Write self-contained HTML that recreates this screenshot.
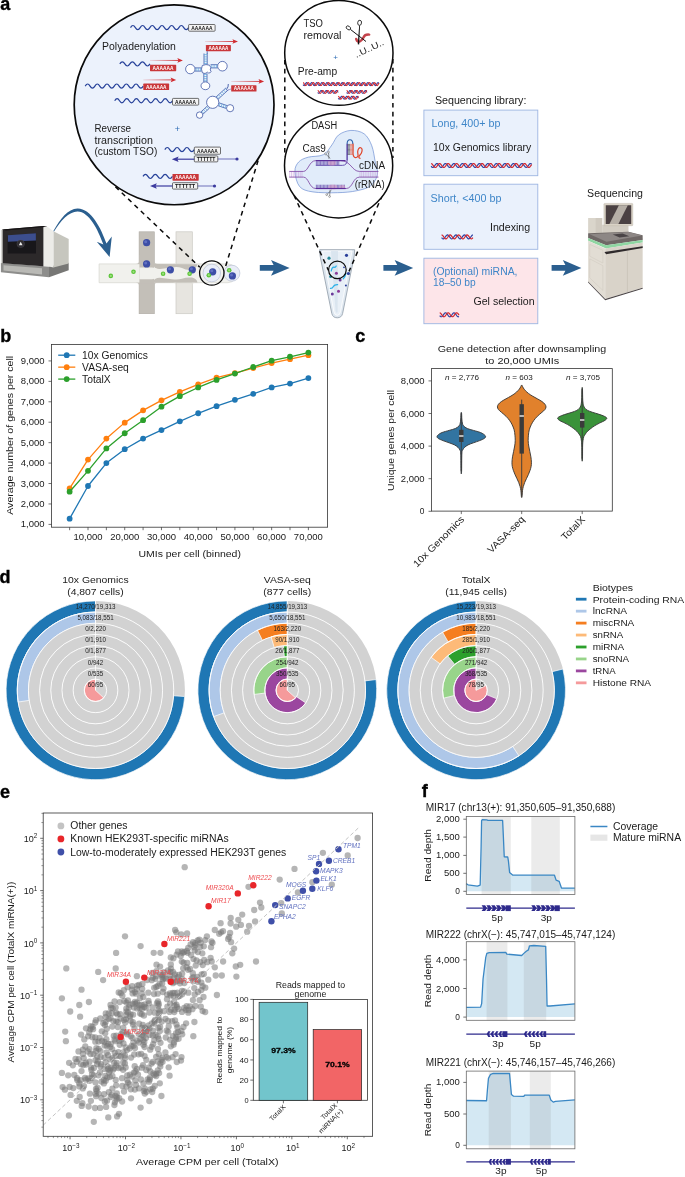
<!DOCTYPE html>
<html lang="en"><head><meta charset="utf-8"><title>TotalX figure</title>
<style>
html,body{margin:0;padding:0;background:#fff}
svg{display:block;will-change:transform}
svg text{font-family:"Liberation Sans",sans-serif}
</style></head><body>
<svg width="685" height="1177" viewBox="0 0 685 1177" fill="#1a1a1a">
<g id="panel_a">
<text x="0.20" y="10.00" font-size="18" fill="#000" font-weight="bold" stroke="#000" stroke-width="0.35">a</text>
<polygon points="0.90,263.00 49.00,266.40 49.00,277.20 0.90,272.30" fill="#8d8d8b" stroke="none" stroke-width="1" />
<polygon points="3.50,265.20 42.00,268.20 42.00,274.60 3.50,270.60" fill="#b9b9b5" stroke="none" stroke-width="1" />
<polygon points="49.00,266.40 68.70,262.80 68.70,270.20 49.00,277.20" fill="#777775" stroke="none" stroke-width="1" />
<polygon points="53.40,231.20 68.70,238.90 68.70,263.40 53.40,267.40" fill="#c6c6be" stroke="none" stroke-width="1" />
<polygon points="43.40,226.00 47.50,226.80 53.40,231.20 53.40,267.40 49.00,266.60 43.40,266.20" fill="#ecece8" stroke="none" stroke-width="1" />
<polygon points="2.10,229.60 43.40,226.00 43.40,266.20 2.10,263.20" fill="#2c292a" stroke="none" stroke-width="1" />
<polygon points="2.10,229.60 43.40,226.00 47.50,226.80 6.00,230.40" fill="#161415" stroke="none" stroke-width="1" />
<polygon points="0.90,230.20 2.60,229.60 2.60,263.20 0.90,263.00" fill="#d8d8d4" stroke="none" stroke-width="1" />
<polygon points="7.60,236.20 36.00,233.20 36.00,253.40 7.60,253.40" fill="#18171a" stroke="none" stroke-width="1" />
<polygon points="7.90,235.20 35.90,233.30 35.90,240.60 7.90,241.70" fill="#3c4e8e" stroke="none" stroke-width="1" />
<circle cx="20.70" cy="243.80" r="3.80" fill="#2d2b30" stroke="#55535a" stroke-width="0.4" />
<polygon points="20.70,241.80 22.60,245.20 18.80,245.20" fill="#e8e8e8" stroke="none" stroke-width="1" />
<path d="M53.4,230.9 C60,219 68,208.6 77.5,208.4 C91,208.2 101,228 106.5,243.5 L111.8,236.6 L109.6,257.0 L96.8,241.8 L103.4,244.6 C98,229.5 89,211.6 77.6,211.4 C69,211.3 60.5,221 54.0,231.4 Z" fill="#2b5f8f"/>
<rect x="176.00" y="231.80" width="16.30" height="81.90" fill="#e7e5e0" stroke="#cbc9c3" stroke-width="0.7" />
<rect x="139.10" y="231.80" width="15.20" height="81.90" fill="#c3bfb8" stroke="#aeaaa3" stroke-width="0.6" />
<path d="M99.1,263.9 H228 Q236,264.5 236,273.3 Q236,282 228,282.7 H99.1 Z" fill="#f1f1ed" stroke="#d6d5cf" stroke-width="0.7"/>
<path d="M139.4,255 V263.9 H154.0 V255 Z M139.4,290 V282.7 H154.0 V290Z" fill="#c3bfb8"/>
<path d="M154.0,263.9 L154.0,266.5 Q155,269.2 160,269.0 L172,267.4 Q178,266.6 182,268.0 Q187,270.6 192,269.6 Q196.5,268.4 197.5,264.2 Z" fill="#c3bfb8"/>
<path d="M154.0,282.7 L154.0,280.3 Q155,277.6 160,277.8 L172,279.2 Q178,279.8 182,278.8 Q187,277.0 192,277.6 Q196.5,278.6 197.5,282.4 Z" fill="#c3bfb8"/>
<rect x="139.40" y="263.00" width="14.60" height="20.40" fill="#c3bfb8" stroke="none" stroke-width="1" />
<path d="M139.4,267.6 H152 Q156,268 158,269.2 L158,277.6 Q156,278.8 152,279.2 H139.4Z" fill="#f1f1ed"/>
<path d="M135.90,263.90 Q139.10,263.90 139.10,260.70 L139.10,263.90Z" fill="#c3bfb8"/>
<path d="M135.90,282.70 Q139.10,282.70 139.10,285.90 L139.10,282.70Z" fill="#c3bfb8"/>
<path d="M157.50,263.90 Q154.30,263.90 154.30,260.70 L154.30,263.90Z" fill="#c3bfb8"/>
<path d="M157.50,282.70 Q154.30,282.70 154.30,285.90 L154.30,282.70Z" fill="#c3bfb8"/>
<path d="M172.80,263.90 Q176.00,263.90 176.00,260.70 L176.00,263.90Z" fill="#e7e5e0"/>
<path d="M172.80,282.70 Q176.00,282.70 176.00,285.90 L176.00,282.70Z" fill="#e7e5e0"/>
<path d="M195.50,263.90 Q192.30,263.90 192.30,260.70 L192.30,263.90Z" fill="#e7e5e0"/>
<path d="M195.50,282.70 Q192.30,282.70 192.30,285.90 L192.30,282.70Z" fill="#e7e5e0"/>
<circle cx="211.80" cy="273.00" r="8.80" fill="#e9edf7" stroke="#b9c1d6" stroke-width="0.7" />
<circle cx="231.90" cy="273.20" r="8.00" fill="#e9edf7" stroke="#b9c1d6" stroke-width="0.7" />
<circle cx="146.60" cy="242.70" r="3.60" fill="#3d4ea6" stroke="none" stroke-width="1" />
<circle cx="145.70" cy="241.70" r="1.50" fill="#6f7fce" stroke="none" stroke-width="1" fill-opacity="0.7"/>
<circle cx="146.60" cy="263.90" r="3.60" fill="#3d4ea6" stroke="none" stroke-width="1" />
<circle cx="145.70" cy="262.90" r="1.50" fill="#6f7fce" stroke="none" stroke-width="1" fill-opacity="0.7"/>
<circle cx="170.40" cy="269.80" r="3.60" fill="#3d4ea6" stroke="none" stroke-width="1" />
<circle cx="169.50" cy="268.80" r="1.50" fill="#6f7fce" stroke="none" stroke-width="1" fill-opacity="0.7"/>
<circle cx="192.30" cy="269.80" r="3.60" fill="#3d4ea6" stroke="none" stroke-width="1" />
<circle cx="191.40" cy="268.80" r="1.50" fill="#6f7fce" stroke="none" stroke-width="1" fill-opacity="0.7"/>
<circle cx="212.70" cy="271.80" r="3.60" fill="#3d4ea6" stroke="none" stroke-width="1" />
<circle cx="211.80" cy="270.80" r="1.50" fill="#6f7fce" stroke="none" stroke-width="1" fill-opacity="0.7"/>
<circle cx="232.40" cy="275.90" r="3.60" fill="#3d4ea6" stroke="none" stroke-width="1" />
<circle cx="231.50" cy="274.90" r="1.50" fill="#6f7fce" stroke="none" stroke-width="1" fill-opacity="0.7"/>
<circle cx="110.80" cy="275.90" r="2.30" fill="#5cc43a" stroke="none" stroke-width="1" />
<circle cx="110.80" cy="275.90" r="1.10" fill="#9be07a" stroke="none" stroke-width="1" />
<circle cx="133.50" cy="271.80" r="2.30" fill="#5cc43a" stroke="none" stroke-width="1" />
<circle cx="133.50" cy="271.80" r="1.10" fill="#9be07a" stroke="none" stroke-width="1" />
<circle cx="163.10" cy="273.70" r="2.30" fill="#5cc43a" stroke="none" stroke-width="1" />
<circle cx="163.10" cy="273.70" r="1.10" fill="#9be07a" stroke="none" stroke-width="1" />
<circle cx="189.60" cy="273.70" r="2.30" fill="#5cc43a" stroke="none" stroke-width="1" />
<circle cx="189.60" cy="273.70" r="1.10" fill="#9be07a" stroke="none" stroke-width="1" />
<circle cx="208.80" cy="275.20" r="2.30" fill="#5cc43a" stroke="none" stroke-width="1" />
<circle cx="208.80" cy="275.20" r="1.10" fill="#9be07a" stroke="none" stroke-width="1" />
<circle cx="229.20" cy="270.30" r="2.30" fill="#5cc43a" stroke="none" stroke-width="1" />
<circle cx="229.20" cy="270.30" r="1.10" fill="#9be07a" stroke="none" stroke-width="1" />
<circle cx="211.80" cy="273.00" r="12.20" fill="none" stroke="#0a0a0a" stroke-width="1.3" />
<line x1="115.40" y1="186.70" x2="199.80" y2="267.20" stroke="#0a0a0a" stroke-width="1.5" stroke-dasharray="4.6 4.2"/>
<line x1="258.10" y1="160.60" x2="225.20" y2="267.60" stroke="#0a0a0a" stroke-width="1.5" stroke-dasharray="4.6 4.2"/>
<defs><linearGradient id="rg" x1="0" x2="1" y1="0" y2="0"><stop offset="0" stop-color="#d02b30" stop-opacity="0.15"/><stop offset="1" stop-color="#d02b30"/></linearGradient></defs>
<circle cx="174.10" cy="104.85" r="99.90" fill="#ecf2fc" stroke="#0a0a0a" stroke-width="1.7" />
<path d="M130.50,27.60Q132.92,23.40 135.34,27.60Q137.76,31.80 140.18,27.60Q142.60,23.40 145.03,27.60Q147.45,31.80 149.87,27.60Q152.29,23.40 154.71,27.60Q157.13,31.80 159.55,27.60Q161.97,23.40 164.39,27.60Q166.81,31.80 169.23,27.60Q171.65,23.40 174.07,27.60Q176.50,31.80 178.92,27.60Q181.34,23.40 183.76,27.60Q186.18,31.80 188.60,27.60" fill="none" stroke="#27429a" stroke-width="1.2"/>
<rect x="188.60" y="24.50" width="26.50" height="6.70" fill="#f4f4f4" stroke="#333" stroke-width="0.7" rx="0.8"/>
<text x="201.85" y="29.73" font-size="5.2" text-anchor="middle" fill="#111111" font-weight="bold" textLength="21.20" lengthAdjust="spacingAndGlyphs">AAAAAA</text>
<text x="102.00" y="50.40" font-size="10" textLength="73.90" lengthAdjust="spacingAndGlyphs">Polyadenylation</text>
<rect x="205.0" y="41.05" width="29.0" height="0.9" fill="url(#rg)"/><polygon points="238.00,41.50 232.40,39.20 233.60,41.50 232.40,43.80" fill="#d02b30" stroke="none" stroke-width="1" />
<rect x="205.90" y="44.90" width="25.00" height="6.30" fill="#c9373a" stroke="none" stroke-width="1" rx="0.6"/>
<text x="218.40" y="49.82" font-size="4.9" text-anchor="middle" fill="#ffffff" font-weight="bold" textLength="20.00" lengthAdjust="spacingAndGlyphs">AAAAAA</text>
<path d="M119.80,63.90Q122.32,59.70 124.83,63.90Q127.35,68.10 129.87,63.90Q132.38,59.70 134.90,63.90Q137.42,68.10 139.93,63.90Q142.45,59.70 144.97,63.90Q147.48,68.10 150.00,63.90" fill="none" stroke="#27429a" stroke-width="1.2"/>
<rect x="150.00" y="64.80" width="26.20" height="6.40" fill="#c9373a" stroke="none" stroke-width="1" rx="0.6"/>
<text x="163.10" y="69.80" font-size="5.0" text-anchor="middle" fill="#ffffff" font-weight="bold" textLength="20.96" lengthAdjust="spacingAndGlyphs">AAAAAA</text>
<rect x="150.0" y="59.95" width="28.9" height="0.9" fill="url(#rg)"/><polygon points="182.90,60.40 177.30,58.10 178.50,60.40 177.30,62.70" fill="#d02b30" stroke="none" stroke-width="1" />
<path d="M85.20,86.10Q87.62,81.90 90.04,86.10Q92.46,90.30 94.88,86.10Q97.30,81.90 99.73,86.10Q102.15,90.30 104.57,86.10Q106.99,81.90 109.41,86.10Q111.83,90.30 114.25,86.10Q116.67,81.90 119.09,86.10Q121.51,90.30 123.93,86.10Q126.35,81.90 128.78,86.10Q131.20,90.30 133.62,86.10Q136.04,81.90 138.46,86.10Q140.88,90.30 143.30,86.10" fill="none" stroke="#27429a" stroke-width="1.2"/>
<rect x="143.30" y="83.60" width="25.80" height="6.40" fill="#c9373a" stroke="none" stroke-width="1" rx="0.6"/>
<text x="156.20" y="88.60" font-size="5.0" text-anchor="middle" fill="#ffffff" font-weight="bold" textLength="20.64" lengthAdjust="spacingAndGlyphs">AAAAAA</text>
<rect x="143.3" y="79.45" width="28.9" height="0.9" fill="url(#rg)"/><polygon points="176.20,79.90 170.60,77.60 171.80,79.90 170.60,82.20" fill="#d02b30" stroke="none" stroke-width="1" />
<path d="M114.70,100.80Q117.11,96.60 119.52,100.80Q121.92,105.00 124.33,100.80Q126.74,96.60 129.15,100.80Q131.56,105.00 133.97,100.80Q136.38,96.60 138.78,100.80Q141.19,105.00 143.60,100.80Q146.01,96.60 148.42,100.80Q150.83,105.00 153.23,100.80Q155.64,96.60 158.05,100.80Q160.46,105.00 162.87,100.80Q165.28,96.60 167.68,100.80Q170.09,105.00 172.50,100.80" fill="none" stroke="#27429a" stroke-width="1.2"/>
<rect x="172.50" y="98.40" width="26.20" height="6.70" fill="#f4f4f4" stroke="#333" stroke-width="0.7" rx="0.8"/>
<text x="185.60" y="103.63" font-size="5.2" text-anchor="middle" fill="#111111" font-weight="bold" textLength="20.96" lengthAdjust="spacingAndGlyphs">AAAAAA</text>
<rect x="231.2" y="80.95" width="28.9" height="0.9" fill="url(#rg)"/><polygon points="264.10,81.40 258.50,79.10 259.70,81.40 258.50,83.70" fill="#d02b30" stroke="none" stroke-width="1" />
<rect x="231.20" y="85.20" width="25.30" height="6.40" fill="#c9373a" stroke="none" stroke-width="1" rx="0.6"/>
<text x="243.85" y="90.20" font-size="5.0" text-anchor="middle" fill="#ffffff" font-weight="bold" textLength="20.24" lengthAdjust="spacingAndGlyphs">AAAAAA</text>
<line x1="204.00" y1="53.50" x2="204.00" y2="64.60" stroke="#27429a" stroke-width="0.7" />
<line x1="207.20" y1="53.50" x2="207.20" y2="64.60" stroke="#27429a" stroke-width="0.7" />
<line x1="204.00" y1="54.61" x2="207.20" y2="54.61" stroke="#56a8dc" stroke-width="0.7" />
<line x1="204.00" y1="56.83" x2="207.20" y2="56.83" stroke="#56a8dc" stroke-width="0.7" />
<line x1="204.00" y1="59.05" x2="207.20" y2="59.05" stroke="#56a8dc" stroke-width="0.7" />
<line x1="204.00" y1="61.27" x2="207.20" y2="61.27" stroke="#56a8dc" stroke-width="0.7" />
<line x1="204.00" y1="63.49" x2="207.20" y2="63.49" stroke="#56a8dc" stroke-width="0.7" />
<line x1="207.20" y1="51.20" x2="207.20" y2="54.00" stroke="#27429a" stroke-width="0.7" />
<line x1="195.00" y1="71.10" x2="201.50" y2="71.10" stroke="#27429a" stroke-width="0.7" />
<line x1="195.00" y1="67.90" x2="201.50" y2="67.90" stroke="#27429a" stroke-width="0.7" />
<line x1="196.08" y1="71.10" x2="196.08" y2="67.90" stroke="#56a8dc" stroke-width="0.7" />
<line x1="198.25" y1="71.10" x2="198.25" y2="67.90" stroke="#56a8dc" stroke-width="0.7" />
<line x1="200.42" y1="71.10" x2="200.42" y2="67.90" stroke="#56a8dc" stroke-width="0.7" />
<line x1="210.60" y1="67.90" x2="217.60" y2="67.90" stroke="#27429a" stroke-width="0.7" />
<line x1="210.60" y1="64.70" x2="217.60" y2="64.70" stroke="#27429a" stroke-width="0.7" />
<line x1="211.77" y1="67.90" x2="211.77" y2="64.70" stroke="#56a8dc" stroke-width="0.7" />
<line x1="214.10" y1="67.90" x2="214.10" y2="64.70" stroke="#56a8dc" stroke-width="0.7" />
<line x1="216.43" y1="67.90" x2="216.43" y2="64.70" stroke="#56a8dc" stroke-width="0.7" />
<line x1="203.80" y1="73.30" x2="203.80" y2="81.90" stroke="#27429a" stroke-width="0.7" />
<line x1="207.00" y1="73.30" x2="207.00" y2="81.90" stroke="#27429a" stroke-width="0.7" />
<line x1="203.80" y1="74.38" x2="207.00" y2="74.38" stroke="#56a8dc" stroke-width="0.7" />
<line x1="203.80" y1="76.53" x2="207.00" y2="76.53" stroke="#56a8dc" stroke-width="0.7" />
<line x1="203.80" y1="78.67" x2="207.00" y2="78.67" stroke="#56a8dc" stroke-width="0.7" />
<line x1="203.80" y1="80.83" x2="207.00" y2="80.83" stroke="#56a8dc" stroke-width="0.7" />
<circle cx="190.30" cy="69.10" r="4.70" fill="#fff" stroke="#27429a" stroke-width="0.7" />
<circle cx="222.40" cy="66.20" r="4.80" fill="#fff" stroke="#27429a" stroke-width="0.7" />
<ellipse cx="205.4" cy="85.8" rx="4.4" ry="3.9" fill="#fff" stroke="#27429a" stroke-width="0.7"/>
<path d="M202.3,65.5 Q206,63.8 209.6,65.2 Q211.6,67.5 210.2,70 Q212,71.2 210.3,72.6 Q208.5,73.8 207.6,72.2 Q205,74.5 202.4,72.8 Q200.6,69 202.3,65.5Z" fill="#fff" stroke="#27429a" stroke-width="0.7"/>
<line x1="218.02" y1="99.30" x2="228.22" y2="89.90" stroke="#27429a" stroke-width="0.7" />
<line x1="215.98" y1="97.10" x2="226.18" y2="87.70" stroke="#27429a" stroke-width="0.7" />
<line x1="218.87" y1="98.52" x2="216.83" y2="96.31" stroke="#56a8dc" stroke-width="0.7" />
<line x1="220.57" y1="96.95" x2="218.53" y2="94.75" stroke="#56a8dc" stroke-width="0.7" />
<line x1="222.27" y1="95.39" x2="220.23" y2="93.18" stroke="#56a8dc" stroke-width="0.7" />
<line x1="223.97" y1="93.82" x2="221.93" y2="91.61" stroke="#56a8dc" stroke-width="0.7" />
<line x1="225.67" y1="92.25" x2="223.63" y2="90.05" stroke="#56a8dc" stroke-width="0.7" />
<line x1="227.37" y1="90.69" x2="225.33" y2="88.48" stroke="#56a8dc" stroke-width="0.7" />
<path d="M226.4,89.6 Q228.6,87 228.3,84" fill="none" stroke="#27429a" stroke-width="0.8"/>
<path d="M226.8,90.6 Q229.5,89.5 231,89" fill="none" stroke="#6a5fb0" stroke-width="0.6"/>
<line x1="218.12" y1="105.72" x2="226.12" y2="108.42" stroke="#27429a" stroke-width="0.7" />
<line x1="219.08" y1="102.88" x2="227.08" y2="105.58" stroke="#27429a" stroke-width="0.7" />
<line x1="219.12" y1="106.06" x2="220.08" y2="103.22" stroke="#56a8dc" stroke-width="0.7" />
<line x1="221.12" y1="106.73" x2="222.08" y2="103.89" stroke="#56a8dc" stroke-width="0.7" />
<line x1="223.12" y1="107.41" x2="224.08" y2="104.57" stroke="#56a8dc" stroke-width="0.7" />
<line x1="225.12" y1="108.08" x2="226.08" y2="105.24" stroke="#56a8dc" stroke-width="0.7" />
<line x1="207.58" y1="105.80" x2="200.98" y2="111.90" stroke="#27429a" stroke-width="0.7" />
<line x1="209.62" y1="108.00" x2="203.02" y2="114.10" stroke="#27429a" stroke-width="0.7" />
<line x1="206.76" y1="106.56" x2="208.79" y2="108.76" stroke="#56a8dc" stroke-width="0.7" />
<line x1="205.11" y1="108.09" x2="207.14" y2="110.29" stroke="#56a8dc" stroke-width="0.7" />
<line x1="203.46" y1="109.61" x2="205.49" y2="111.81" stroke="#56a8dc" stroke-width="0.7" />
<line x1="201.81" y1="111.14" x2="203.84" y2="113.34" stroke="#56a8dc" stroke-width="0.7" />
<circle cx="212.70" cy="102.30" r="6.10" fill="#fff" stroke="#27429a" stroke-width="0.7" />
<circle cx="230.10" cy="108.20" r="3.60" fill="#fff" stroke="#27429a" stroke-width="0.7" />
<circle cx="199.60" cy="115.10" r="3.20" fill="#fff" stroke="#27429a" stroke-width="0.7" />
<text x="94.50" y="131.60" font-size="10" textLength="36.50" lengthAdjust="spacingAndGlyphs">Reverse</text>
<text x="94.50" y="143.50" font-size="10" textLength="58.40" lengthAdjust="spacingAndGlyphs">transcription</text>
<text x="94.50" y="155.20" font-size="10" textLength="62.80" lengthAdjust="spacingAndGlyphs">(custom TSO)</text>
<text x="177.50" y="131.80" font-size="9" text-anchor="middle" fill="#2f6db5">+</text>
<path d="M164.80,149.60Q167.26,145.40 169.72,149.60Q172.18,153.80 174.63,149.60Q177.09,145.40 179.55,149.60Q182.01,153.80 184.47,149.60Q186.93,145.40 189.38,149.60Q191.84,153.80 194.30,149.60" fill="none" stroke="#27429a" stroke-width="1.2"/>
<rect x="194.30" y="147.10" width="26.20" height="7.10" fill="#f4f4f4" stroke="#333" stroke-width="0.7" rx="0.8"/>
<text x="207.40" y="152.64" font-size="5.5" text-anchor="middle" fill="#111111" font-weight="bold" textLength="20.96" lengthAdjust="spacingAndGlyphs">AAAAAA</text>
<rect x="194.30" y="155.90" width="23.50" height="6.00" fill="#f4f4f4" stroke="#333" stroke-width="0.7" rx="0.8"/>
<text x="206.05" y="160.58" font-size="4.7" text-anchor="middle" fill="#111111" font-weight="bold" textLength="18.80" lengthAdjust="spacingAndGlyphs">TTTTTT</text>
<line x1="217.80" y1="159.00" x2="237.00" y2="159.00" stroke="#3b3a9e" stroke-width="0.7" />
<circle cx="237.00" cy="159.00" r="1.60" fill="#3b3a9e" stroke="none" stroke-width="1" />
<line x1="177.00" y1="159.20" x2="194.30" y2="159.20" stroke="#3b3a9e" stroke-width="1.2" />
<polygon points="171.80,159.20 178.60,156.40 177.40,159.20 178.60,162.00" fill="#3b3a9e" stroke="none" stroke-width="1" />
<path d="M143.00,176.40Q145.46,172.20 147.92,176.40Q150.38,180.60 152.83,176.40Q155.29,172.20 157.75,176.40Q160.21,180.60 162.67,176.40Q165.12,172.20 167.58,176.40Q170.04,180.60 172.50,176.40" fill="none" stroke="#27429a" stroke-width="1.2"/>
<rect x="172.50" y="174.00" width="26.20" height="6.70" fill="#c9373a" stroke="none" stroke-width="1" rx="0.6"/>
<text x="185.60" y="179.23" font-size="5.2" text-anchor="middle" fill="#ffffff" font-weight="bold" textLength="20.96" lengthAdjust="spacingAndGlyphs">AAAAAA</text>
<rect x="172.50" y="182.70" width="25.20" height="6.40" fill="#f4f4f4" stroke="#333" stroke-width="0.7" rx="0.8"/>
<text x="185.10" y="187.70" font-size="5.0" text-anchor="middle" fill="#111111" font-weight="bold" textLength="20.16" lengthAdjust="spacingAndGlyphs">TTTTTT</text>
<line x1="197.70" y1="186.00" x2="214.50" y2="186.00" stroke="#3b3a9e" stroke-width="0.7" />
<circle cx="214.50" cy="186.00" r="1.60" fill="#3b3a9e" stroke="none" stroke-width="1" />
<line x1="155.20" y1="186.00" x2="172.50" y2="186.00" stroke="#3b3a9e" stroke-width="1.2" />
<polygon points="150.00,186.00 156.80,183.20 155.60,186.00 156.80,188.80" fill="#3b3a9e" stroke="none" stroke-width="1" />
<line x1="284.80" y1="60.00" x2="284.80" y2="157.00" stroke="#0a0a0a" stroke-width="1.5" stroke-dasharray="4.6 4.2"/>
<line x1="392.90" y1="59.00" x2="392.90" y2="158.00" stroke="#0a0a0a" stroke-width="1.5" stroke-dasharray="4.6 4.2"/>
<path d="M319.6,249.7 H354.7 L354.2,256 L342.6,313.5 Q341.6,317.8 337.2,317.8 Q332.8,317.8 331.8,313.5 L320.1,256 Z" fill="#dde6ef" stroke="#9aa5b0" stroke-width="0.9"/>
<path d="M322.4,251 H352 L340.6,311.5 Q339.8,315.4 337.2,315.4 Q334.6,315.4 333.8,311.5 Z" fill="#e9f0f7" stroke="#ffffff" stroke-width="0.8"/>
<path d="M331,251 H338 L337.6,312 Q336.4,314 335.6,311 Z" fill="#d3dfeb" fill-opacity="0.7"/>
<circle cx="329.00" cy="258.20" r="1.60" fill="#2a8a9a" stroke="none" stroke-width="1" />
<circle cx="346.50" cy="255.30" r="1.60" fill="#2a3f9a" stroke="none" stroke-width="1" />
<circle cx="336.40" cy="273.20" r="1.50" fill="#8a3a9a" stroke="none" stroke-width="1" />
<circle cx="348.40" cy="273.50" r="1.60" fill="#2a3f9a" stroke="none" stroke-width="1" />
<circle cx="340.10" cy="280.10" r="1.50" fill="#6a3a9a" stroke="none" stroke-width="1" />
<circle cx="330.60" cy="276.40" r="1.50" fill="#2a8a9a" stroke="none" stroke-width="1" />
<circle cx="338.50" cy="291.30" r="1.50" fill="#8a3a9a" stroke="none" stroke-width="1" />
<circle cx="332.30" cy="293.90" r="1.50" fill="#6a3a9a" stroke="none" stroke-width="1" />
<circle cx="345.90" cy="285.60" r="1.00" fill="#2a3f9a" stroke="none" stroke-width="1" />
<circle cx="344.00" cy="267.30" r="0.90" fill="#2a3f9a" stroke="none" stroke-width="1" />
<path d="M331.2,271 Q332,266.8 334.2,267.2 Q335.6,267.6 336.2,266" fill="none" stroke="#2ab0e8" stroke-width="1.25" stroke-linecap="round"/>
<path d="M330.4,288.4 Q332.4,288.6 333.4,286.4 Q334.6,284.4 337.6,284.6" fill="none" stroke="#2ab0e8" stroke-width="1.25" stroke-linecap="round"/>
<path d="M343.2,278.8 Q345.4,276.4 345.8,273.4" fill="none" stroke="#2ab0e8" stroke-width="1.25" stroke-linecap="round"/>
<circle cx="337.40" cy="269.90" r="8.80" fill="none" stroke="#0a0a0a" stroke-width="1.2" />
<line x1="294.00" y1="195.20" x2="328.40" y2="270.20" stroke="#0a0a0a" stroke-width="1.5" stroke-dasharray="4.6 4.2"/>
<line x1="382.40" y1="195.20" x2="349.00" y2="271.40" stroke="#0a0a0a" stroke-width="1.5" stroke-dasharray="4.6 4.2"/>
<ellipse cx="338.85" cy="52.9" rx="54.15" ry="52.4" fill="#fff" stroke="#0a0a0a" stroke-width="1.5"/>
<text x="303.50" y="26.70" font-size="10" textLength="19.50" lengthAdjust="spacingAndGlyphs">TSO</text>
<text x="303.50" y="38.60" font-size="10" textLength="38.00" lengthAdjust="spacingAndGlyphs">removal</text>
<text x="297.80" y="75.20" font-size="10" textLength="39.30" lengthAdjust="spacingAndGlyphs">Pre-amp</text>
<text x="335.70" y="60.20" font-size="8" text-anchor="middle" fill="#2f6db5">+</text>
<path d="M356.2,39.0 Q357.4,42.6 360.2,41.2 Q362.6,39.8 363.6,37.2 Q364.8,34.2 369.2,34.6" fill="none" stroke="#c4434b" stroke-width="2.4" stroke-linecap="round"/>
<line x1="350.40" y1="29.40" x2="366.00" y2="41.50" stroke="#111" stroke-width="1.0" />
<polygon points="359.20,25.40 360.00,25.50 359.20,44.40 357.70,44.20" fill="#111" stroke="none" stroke-width="1" />
<ellipse cx="348.4" cy="27.9" rx="2.4" ry="1.7" transform="rotate(35 348.4 27.9)" fill="#fff" stroke="#111" stroke-width="0.8"/>
<ellipse cx="359.6" cy="22.8" rx="1.9" ry="2.6" transform="rotate(8 359.6 22.8)" fill="#fff" stroke="#111" stroke-width="0.8"/>
<text x="356.20" y="57.90" font-size="8.8" fill="#222" transform="rotate(-25 356.20 57.90)" textLength="31.40" lengthAdjust="spacingAndGlyphs">..U..U..</text>
<path d="M303.10,84.65L303.46,85.20L303.83,85.54L304.19,85.58L304.56,85.33L304.92,84.84L305.29,84.20L305.65,83.54L306.02,82.99L306.38,82.66L306.75,82.62L307.11,82.87L307.48,83.37L307.84,84.01L308.21,84.67L308.57,85.21L308.94,85.54L309.30,85.58L309.67,85.33L310.03,84.83L310.40,84.18L310.76,83.53L311.13,82.98L311.49,82.66L311.86,82.62L312.22,82.88L312.59,83.38L312.95,84.02L313.32,84.68L313.68,85.22L314.05,85.54L314.41,85.58L314.78,85.32L315.14,84.81L315.51,84.17L315.87,83.51L316.24,82.97L316.60,82.65L316.97,82.62L317.33,82.89L317.70,83.39L318.06,84.04L318.43,84.70L318.79,85.24L319.16,85.55L319.52,85.57L319.89,85.31L320.25,84.80L320.62,84.15L320.98,83.50L321.35,82.96L321.71,82.65L322.08,82.63L322.44,82.90L322.80,83.41L323.17,84.06L323.53,84.71L323.90,85.25L324.26,85.55L324.63,85.57L324.99,85.30L325.36,84.78L325.72,84.14L326.09,83.48L326.45,82.95L326.82,82.65L327.18,82.63L327.55,82.91L327.91,83.42L328.28,84.07L328.64,84.73L329.01,85.26L329.37,85.56L329.74,85.57L330.10,85.29L330.47,84.77L330.83,84.12L331.20,83.47L331.56,82.94L331.93,82.64L332.29,82.63L332.66,82.92L333.02,83.44L333.39,84.09L333.75,84.74L334.12,85.27L334.48,85.56L334.85,85.56L335.21,85.28L335.58,84.76L335.94,84.10L336.31,83.45L336.67,82.93L337.04,82.64L337.40,82.64L337.77,82.93L338.13,83.45L338.50,84.10L338.86,84.75L339.23,85.28L339.59,85.56L339.96,85.56L340.32,85.27L340.69,84.74L341.05,84.09L341.41,83.44L341.78,82.92L342.14,82.63L342.51,82.64L342.87,82.94L343.24,83.47L343.60,84.12L343.97,84.77L344.33,85.29L344.70,85.57L345.06,85.56L345.43,85.26L345.79,84.73L346.16,84.07L346.52,83.42L346.89,82.91L347.25,82.63L347.62,82.64L347.98,82.95L348.35,83.48L348.71,84.14L349.08,84.78L349.44,85.30L349.81,85.57L350.17,85.55L350.54,85.25L350.90,84.71L351.27,84.06L351.63,83.41L352.00,82.90L352.36,82.63L352.73,82.65L353.09,82.96L353.46,83.49L353.82,84.15L354.19,84.80L354.55,85.31L354.92,85.57L355.28,85.55L355.65,85.24L356.01,84.70L356.38,84.04L356.74,83.40L357.11,82.89L357.47,82.62L357.84,82.65L358.20,82.97L358.57,83.51L358.93,84.17L359.30,84.81L359.66,85.31L360.02,85.58L360.39,85.54L360.75,85.23L361.12,84.68L361.48,84.02L361.85,83.38L362.21,82.88L362.58,82.62L362.94,82.66L363.31,82.98L363.67,83.52L364.04,84.18L364.40,84.83L364.77,85.32L365.13,85.58L365.50,85.54L365.86,85.22L366.23,84.67L366.59,84.01L366.96,83.37L367.32,82.87L367.69,82.62L368.05,82.66L368.42,82.99L368.78,83.54L369.15,84.20L369.51,84.84L369.88,85.33L370.24,85.58L370.61,85.54L370.97,85.20L371.34,84.65L371.70,83.99L372.07,83.35L372.43,82.86L372.80,82.62L373.16,82.67L373.53,83.00L373.89,83.55L374.26,84.21L374.62,84.85L374.99,85.34L375.35,85.58L375.72,85.53L376.08,85.19L376.45,84.64L376.81,83.98L377.18,83.34L377.54,82.85L377.91,82.61L378.27,82.67L378.64,83.01L379.00,83.57" fill="none" stroke="#2f44a4" stroke-width="1.1" stroke-linejoin="round"/><path d="M303.10,82.60L303.46,82.75L303.83,83.17L304.19,83.77L304.56,84.44L304.92,85.04L305.29,85.45L305.65,85.60L306.02,85.45L306.38,85.03L306.75,84.42L307.11,83.75L307.48,83.15L307.84,82.74L308.21,82.60L308.57,82.76L308.94,83.18L309.30,83.79L309.67,84.45L310.03,85.05L310.40,85.46L310.76,85.60L311.13,85.44L311.49,85.01L311.86,84.41L312.22,83.74L312.59,83.14L312.95,82.74L313.32,82.60L313.68,82.76L314.05,83.19L314.41,83.80L314.78,84.47L315.14,85.06L315.51,85.47L315.87,85.60L316.24,85.43L316.60,85.00L316.97,84.39L317.33,83.72L317.70,83.13L318.06,82.73L318.43,82.60L318.79,82.77L319.16,83.20L319.52,83.82L319.89,84.48L320.25,85.08L320.62,85.47L320.98,85.60L321.35,85.43L321.71,84.99L322.08,84.38L322.44,83.71L322.80,83.12L323.17,82.72L323.53,82.60L323.90,82.78L324.26,83.22L324.63,83.83L324.99,84.50L325.36,85.09L325.72,85.48L326.09,85.60L326.45,85.42L326.82,84.98L327.18,84.36L327.55,83.69L327.91,83.11L328.28,82.72L328.64,82.60L329.01,82.79L329.37,83.23L329.74,83.85L330.10,84.52L330.47,85.10L330.83,85.49L331.20,85.60L331.56,85.41L331.93,84.96L332.29,84.34L332.66,83.68L333.02,83.09L333.39,82.71L333.75,82.60L334.12,82.79L334.48,83.24L334.85,83.86L335.21,84.53L335.58,85.11L335.94,85.49L336.31,85.60L336.67,85.40L337.04,84.95L337.40,84.33L337.77,83.66L338.13,83.08L338.50,82.70L338.86,82.60L339.23,82.80L339.59,83.26L339.96,83.88L340.32,84.55L340.69,85.12L341.05,85.50L341.41,85.60L341.78,85.39L342.14,84.94L342.51,84.31L342.87,83.65L343.24,83.07L343.60,82.70L343.97,82.61L344.33,82.81L344.70,83.27L345.06,83.90L345.43,84.56L345.79,85.14L346.16,85.50L346.52,85.59L346.89,85.39L347.25,84.92L347.62,84.30L347.98,83.63L348.35,83.06L348.71,82.69L349.08,82.61L349.44,82.82L349.81,83.28L350.17,83.91L350.54,84.58L350.90,85.15L351.27,85.51L351.63,85.59L352.00,85.38L352.36,84.91L352.73,84.28L353.09,83.62L353.46,83.05L353.82,82.69L354.19,82.61L354.55,82.83L354.92,83.30L355.28,83.93L355.65,84.59L356.01,85.16L356.38,85.52L356.74,85.59L357.11,85.37L357.47,84.90L357.84,84.26L358.20,83.60L358.57,83.04L358.93,82.68L359.30,82.61L359.66,82.83L360.02,83.31L360.39,83.94L360.75,84.61L361.12,85.17L361.48,85.52L361.85,85.59L362.21,85.36L362.58,84.88L362.94,84.25L363.31,83.59L363.67,83.02L364.04,82.68L364.40,82.61L364.77,82.84L365.13,83.32L365.50,83.96L365.86,84.62L366.23,85.18L366.59,85.53L366.96,85.59L367.32,85.35L367.69,84.87L368.05,84.23L368.42,83.57L368.78,83.01L369.15,82.67L369.51,82.61L369.88,82.85L370.24,83.34L370.61,83.97L370.97,84.64L371.34,85.19L371.70,85.53L372.07,85.58L372.43,85.34L372.80,84.86L373.16,84.22L373.53,83.56L373.89,83.00L374.26,82.67L374.62,82.62L374.99,82.86L375.35,83.35L375.72,83.99L376.08,84.65L376.45,85.20L376.81,85.54L377.18,85.58L377.54,85.33L377.91,84.84L378.27,84.20L378.64,83.54L379.00,82.99" fill="none" stroke="#d4282e" stroke-width="1.1" stroke-linejoin="round"/>
<path d="M317.70,92.43L318.07,92.97L318.43,93.29L318.80,93.33L319.16,93.09L319.53,92.61L319.90,91.98L320.26,91.35L320.63,90.82L320.99,90.51L321.36,90.47L321.73,90.72L322.09,91.21L322.46,91.84L322.82,92.48L323.19,93.00L323.56,93.30L323.92,93.32L324.29,93.06L324.66,92.57L325.02,91.94L325.39,91.30L325.75,90.79L326.12,90.49L326.49,90.48L326.85,90.75L327.22,91.25L327.58,91.88L327.95,92.52L328.32,93.03L328.68,93.31L329.05,93.31L329.41,93.03L329.78,92.53L330.15,91.90L330.51,91.26L330.88,90.76L331.24,90.48L331.61,90.49L331.98,90.78L332.34,91.29L332.71,91.93L333.07,92.56L333.44,93.05L333.81,93.32L334.17,93.30L334.54,93.01L334.91,92.49L335.27,91.85L335.64,91.22L336.00,90.73L336.37,90.47L336.74,90.50L337.10,90.81L337.47,91.33L337.83,91.97L338.20,92.60" fill="none" stroke="#2f44a4" stroke-width="1.05" stroke-linejoin="round"/><path d="M317.70,90.45L318.07,90.59L318.43,91.00L318.80,91.59L319.16,92.24L319.53,92.82L319.90,93.21L320.26,93.35L320.63,93.20L320.99,92.78L321.36,92.19L321.73,91.54L322.09,90.97L322.46,90.58L322.82,90.45L323.19,90.62L323.56,91.04L323.92,91.63L324.29,92.28L324.66,92.85L325.02,93.23L325.39,93.35L325.75,93.17L326.12,92.75L326.49,92.15L326.85,91.50L327.22,90.93L327.58,90.56L327.95,90.45L328.32,90.64L328.68,91.07L329.05,91.67L329.41,92.32L329.78,92.88L330.15,93.25L330.51,93.35L330.88,93.15L331.24,92.71L331.61,92.10L331.98,91.46L332.34,90.90L332.71,90.54L333.07,90.46L333.44,90.66L333.81,91.11L334.17,91.72L334.54,92.36L334.91,92.92L335.27,93.27L335.64,93.34L336.00,93.13L336.37,92.67L336.74,92.06L337.10,91.42L337.47,90.87L337.83,90.53L338.20,90.46" fill="none" stroke="#d4282e" stroke-width="1.05" stroke-linejoin="round"/>
<path d="M346.60,92.43L346.97,92.97L347.34,93.29L347.71,93.33L348.08,93.07L348.45,92.57L348.83,91.93L349.20,91.29L349.57,90.77L349.94,90.49L350.31,90.49L350.68,90.78L351.05,91.31L351.42,91.95L351.79,92.58L352.16,93.08L352.53,93.33L352.91,93.29L353.28,92.96L353.65,92.42L354.02,91.77L354.39,91.14L354.76,90.68L355.13,90.46L355.50,90.54L355.87,90.90L356.24,91.46L356.61,92.11L356.99,92.73L357.36,93.17L357.73,93.35L358.10,93.23L358.47,92.84L358.84,92.26L359.21,91.60L359.58,91.01L359.95,90.60L360.32,90.45L360.69,90.60L361.07,91.02L361.44,91.62L361.81,92.28L362.18,92.86L362.55,93.24L362.92,93.35L363.29,93.16L363.66,92.71L364.03,92.10L364.40,91.44L364.77,90.88L365.15,90.53L365.52,90.46L365.89,90.68L366.26,91.16L366.63,91.78L367.00,92.43" fill="none" stroke="#2f44a4" stroke-width="1.05" stroke-linejoin="round"/><path d="M346.60,90.45L346.97,90.60L347.34,91.01L347.71,91.61L348.08,92.27L348.45,92.85L348.83,93.24L349.20,93.35L349.57,93.16L349.94,92.72L350.31,92.11L350.68,91.45L351.05,90.89L351.42,90.53L351.79,90.46L352.16,90.68L352.53,91.15L352.91,91.78L353.28,92.43L353.65,92.97L354.02,93.29L354.39,93.33L354.76,93.07L355.13,92.58L355.50,91.94L355.87,91.30L356.24,90.78L356.61,90.49L356.99,90.49L357.36,90.78L357.73,91.30L358.10,91.94L358.47,92.58L358.84,93.07L359.21,93.33L359.58,93.29L359.95,92.97L360.32,92.43L360.69,91.78L361.07,91.15L361.44,90.68L361.81,90.46L362.18,90.53L362.55,90.89L362.92,91.45L363.29,92.11L363.66,92.72L364.03,93.16L364.40,93.35L364.77,93.24L365.15,92.85L365.52,92.27L365.89,91.61L366.26,91.01L366.63,90.60L367.00,90.45" fill="none" stroke="#d4282e" stroke-width="1.05" stroke-linejoin="round"/>
<path d="M338.20,98.23L338.57,98.77L338.94,99.09L339.31,99.13L339.68,98.88L340.05,98.38L340.41,97.75L340.78,97.11L341.15,96.59L341.52,96.29L341.89,96.28L342.26,96.56L342.63,97.07L343.00,97.71L343.37,98.34L343.74,98.85L344.11,99.12L344.47,99.10L344.84,98.80L345.21,98.28L345.58,97.63L345.95,97.00L346.32,96.52L346.69,96.27L347.06,96.31L347.43,96.64L347.80,97.18L348.17,97.83L348.53,98.45L348.90,98.92L349.27,99.14L349.64,99.07L350.01,98.72L350.38,98.16L350.75,97.51L351.12,96.90L351.49,96.45L351.86,96.25L352.23,96.35L352.59,96.72L352.96,97.29L353.33,97.95L353.70,98.55L354.07,98.98L354.44,99.15L354.81,99.02L355.18,98.63L355.55,98.05L355.92,97.39L356.29,96.80L356.65,96.39L357.02,96.25L357.39,96.40L357.76,96.82L358.13,97.41L358.50,98.06" fill="none" stroke="#2f44a4" stroke-width="1.05" stroke-linejoin="round"/><path d="M338.20,96.25L338.57,96.40L338.94,96.81L339.31,97.40L339.68,98.06L340.05,98.64L340.41,99.03L340.78,99.15L341.15,98.98L341.52,98.54L341.89,97.94L342.26,97.29L342.63,96.72L343.00,96.35L343.37,96.25L343.74,96.45L344.11,96.91L344.47,97.52L344.84,98.17L345.21,98.73L345.58,99.07L345.95,99.14L346.32,98.91L346.69,98.44L347.06,97.82L347.43,97.17L347.80,96.63L348.17,96.31L348.53,96.27L348.90,96.52L349.27,97.01L349.64,97.64L350.01,98.28L350.38,98.81L350.75,99.11L351.12,99.12L351.49,98.84L351.86,98.34L352.23,97.70L352.59,97.06L352.96,96.56L353.33,96.28L353.70,96.29L354.07,96.59L354.44,97.12L354.81,97.76L355.18,98.39L355.55,98.88L355.92,99.13L356.29,99.09L356.65,98.77L357.02,98.23L357.39,97.58L357.76,96.96L358.13,96.49L358.50,96.26" fill="none" stroke="#d4282e" stroke-width="1.05" stroke-linejoin="round"/>
<ellipse cx="338.6" cy="165.5" rx="54.1" ry="52.4" fill="#fff" stroke="#0a0a0a" stroke-width="1.5"/>
<text x="311.40" y="129.00" font-size="10" textLength="25.80" lengthAdjust="spacingAndGlyphs">DASH</text>
<path d="M294.93,171.43C294.77,167.31 296.51,164.31 298.72,161.94C300.94,159.56 304.10,158.39 308.21,157.19C312.33,155.99 319.44,156.78 323.40,154.72C327.35,152.67 329.41,148.15 331.94,144.86C334.47,141.57 335.42,137.39 338.58,134.99C341.74,132.58 346.65,130.62 350.92,130.43C355.19,130.24 360.72,131.29 364.20,133.85C367.68,136.41 369.96,141.12 371.79,145.80C373.63,150.49 374.26,157.19 375.21,161.94C376.16,166.68 378.21,170.32 377.49,174.27C376.76,178.23 374.32,182.91 370.84,185.66C367.36,188.41 362.14,189.61 356.61,190.78C351.07,191.96 344.91,192.49 337.63,192.68C330.36,192.87 319.28,192.94 312.96,191.92C306.63,190.91 302.68,190.03 299.67,186.61C296.67,183.19 295.09,175.54 294.93,171.43Z" fill="#e1ecfa" stroke="#6e8fd2" stroke-width="0.7"/>
<path d="M289.73,171.43V177.12M291.48,171.43V177.12M293.23,171.43V177.12M294.98,171.43V177.12M296.73,171.43V177.12M298.48,171.43V177.12M300.23,171.43V177.12M301.98,171.43V177.12" stroke="#c9a3dc" stroke-width="0.6" fill="none"/>
<path d="M359.96,171.43V177.12M361.71,171.43V177.12M363.46,171.43V177.12M365.21,171.43V177.12M366.96,171.43V177.12M368.71,171.43V177.12M370.46,171.43V177.12M372.21,171.43V177.12M373.96,171.43V177.12M375.71,171.43V177.12M377.46,171.43V177.12" stroke="#c9a3dc" stroke-width="0.6" fill="none"/>
<path d="M289.23,171.43 L303.47,171.43 C308.21,171.43 309.16,160.61 315.80,160.61 L340.48,160.61 C350.92,160.61 351.86,171.43 359.46,171.43 L378.44,171.43" fill="none" stroke="#7a3fa0" stroke-width="0.8"/>
<path d="M289.23,177.12 L303.47,177.12 C308.78,177.12 309.16,188.51 315.80,188.51 L346.17,188.51 C352.81,188.51 352.81,177.12 359.46,177.12 L378.44,177.12" fill="none" stroke="#7a3fa0" stroke-width="0.8"/>
<path d="M315.80,165.35 L342.38,165.35 Q347.12,165.35 347.12,160.04 L347.12,143.91" fill="none" stroke="#5a3fa8" stroke-width="0.9"/>
<path d="M316.37,161.18V164.97M317.77,161.18V164.97M319.17,161.18V164.97M320.57,161.18V164.97M321.97,161.18V164.97M323.37,161.18V164.97M324.77,161.18V164.97M326.17,161.18V164.97M327.57,161.18V164.97M328.97,161.18V164.97M330.37,161.18V164.97M331.77,161.18V164.97M333.17,161.18V164.97M334.57,161.18V164.97M335.97,161.18V164.97M337.37,161.18V164.97M338.77,161.18V164.97" stroke="#4b2a9a" stroke-width="0.62" fill="none"/>
<path d="M316.37,184.71V188.13M317.77,184.71V188.13M319.17,184.71V188.13M320.57,184.71V188.13M321.97,184.71V188.13M323.37,184.71V188.13M324.77,184.71V188.13M326.17,184.71V188.13M327.57,184.71V188.13M328.97,184.71V188.13M330.37,184.71V188.13M331.77,184.71V188.13M333.17,184.71V188.13M334.57,184.71V188.13M335.97,184.71V188.13M337.37,184.71V188.13M338.77,184.71V188.13M340.17,184.71V188.13M341.57,184.71V188.13M342.97,184.71V188.13M344.37,184.71V188.13" stroke="#4b2a9a" stroke-width="0.62" fill="none"/>
<ellipse cx="331.94" cy="162.89" rx="4" ry="2.6" fill="#f4a0c0" fill-opacity="0.42"/>
<ellipse cx="332.89" cy="186.99" rx="4.5" ry="2.6" fill="#f4a0c0" fill-opacity="0.42"/>
<ellipse cx="342.38" cy="186.99" rx="3" ry="2" fill="#f4a0c0" fill-opacity="0.4"/>
<line x1="315.80" y1="160.61" x2="345.60" y2="160.61" stroke="#5b2d9a" stroke-width="1.2" />
<line x1="315.80" y1="188.51" x2="345.60" y2="188.51" stroke="#5b2d9a" stroke-width="1.2" />
<path d="M347.12,144.41H349.97M347.12,145.66H349.97M347.12,146.91H349.97M347.12,148.16H349.97M347.12,149.41H349.97M347.12,150.66H349.97M347.12,151.91H349.97M347.12,153.16H349.97M347.12,154.41H349.97" stroke="#222" stroke-width="0.55"/>
<path d="M349.97,144.41H352.81M349.97,145.66H352.81M349.97,146.91H352.81M349.97,148.16H352.81M349.97,149.41H352.81M349.97,150.66H352.81M349.97,151.91H352.81M349.97,153.16H352.81M349.97,154.41H352.81" stroke="#e0452a" stroke-width="0.55"/>
<line x1="347.12" y1="143.91" x2="347.12" y2="160.19" stroke="#5a3fa8" stroke-width="0.9" />
<path d="M347.12,143.91 Q347.12,139.73 349.97,139.73 Q352.81,139.73 352.81,143.91" fill="none" stroke="#2a5fa8" stroke-width="1.1"/>
<path d="M353.10,144.00C353.10,145.00 353.10,148.27 353.10,150.00C353.10,151.73 352.93,153.25 353.10,154.40C353.27,155.55 353.57,156.38 354.10,156.90C354.63,157.42 355.65,157.68 356.30,157.50C356.95,157.32 357.77,156.78 358.00,155.80C358.23,154.82 357.58,152.80 357.70,151.60C357.82,150.40 358.20,149.23 358.70,148.60C359.20,147.97 360.13,147.63 360.70,147.80C361.27,147.97 361.98,148.73 362.10,149.60C362.22,150.47 361.85,151.97 361.40,153.00C360.95,154.03 359.82,155.05 359.40,155.80C358.98,156.55 358.80,157.08 358.90,157.50C359.00,157.92 359.82,158.17 360.00,158.30" fill="none" stroke="#e0452a" stroke-width="1.2" stroke-linecap="round"/>
<line x1="325.94" y1="154.26" x2="330.34" y2="158.46" stroke="#333" stroke-width="0.5" />
<line x1="328.54" y1="152.66" x2="328.94" y2="158.86" stroke="#333" stroke-width="0.5" />
<circle cx="325.54" cy="153.86" r="0.90" fill="#fff" stroke="#333" stroke-width="0.4" />
<circle cx="328.44" cy="152.06" r="0.90" fill="#fff" stroke="#333" stroke-width="0.4" />
<line x1="327.08" y1="194.28" x2="331.48" y2="190.08" stroke="#333" stroke-width="0.5" />
<line x1="329.68" y1="195.88" x2="330.08" y2="189.68" stroke="#333" stroke-width="0.5" />
<circle cx="326.68" cy="194.68" r="0.90" fill="#fff" stroke="#333" stroke-width="0.4" />
<circle cx="329.58" cy="196.48" r="0.90" fill="#fff" stroke="#333" stroke-width="0.4" />
<text x="302.50" y="152.20" font-size="10" textLength="23.30" lengthAdjust="spacingAndGlyphs">Cas9</text>
<text x="359.10" y="168.90" font-size="10" textLength="26.00" lengthAdjust="spacingAndGlyphs">cDNA</text>
<text x="354.70" y="187.80" font-size="10" textLength="30.00" lengthAdjust="spacingAndGlyphs">(rRNA)</text>
<text x="434.90" y="104.10" font-size="10" textLength="91.50" lengthAdjust="spacingAndGlyphs">Sequencing library:</text>
<rect x="423.90" y="110.10" width="113.90" height="65.60" fill="#eaf1fc" stroke="#9db6e2" stroke-width="0.9" />
<text x="431.50" y="127.00" font-size="10" fill="#3f86c8" textLength="68.90" lengthAdjust="spacingAndGlyphs">Long, 400+ bp</text>
<text x="433.00" y="151.10" font-size="10" textLength="98.20" lengthAdjust="spacingAndGlyphs">10x Genomics library</text>
<path d="M431.10,166.24L431.71,166.97L432.32,167.42L432.93,167.48L433.54,167.14L434.15,166.48L434.76,165.62L435.37,164.74L435.98,164.01L436.59,163.58L437.20,163.53L437.81,163.87L438.42,164.54L439.03,165.41L439.64,166.29L440.25,167.01L440.86,167.43L441.46,167.47L442.07,167.11L442.68,166.43L443.29,165.57L443.90,164.69L444.51,163.97L445.12,163.56L445.73,163.54L446.34,163.91L446.95,164.59L447.56,165.46L448.17,166.33L448.78,167.04L449.39,167.44L450.00,167.46L450.61,167.08L451.22,166.38L451.83,165.52L452.44,164.64L453.05,163.94L453.66,163.55L454.27,163.55L454.88,163.94L455.49,164.64L456.10,165.51L456.71,166.38L457.32,167.08L457.93,167.45L458.54,167.44L459.15,167.04L459.76,166.34L460.37,165.46L460.98,164.60L461.58,163.91L462.19,163.54L462.80,163.56L463.41,163.97L464.02,164.69L464.63,165.56L465.24,166.43L465.85,167.11L466.46,167.47L467.07,167.43L467.68,167.01L468.29,166.29L468.90,165.41L469.51,164.55L470.12,163.88L470.73,163.53L471.34,163.58L471.95,164.01L472.56,164.74L473.17,165.62L473.78,166.47L474.39,167.14L475.00,167.47L475.61,167.42L476.22,166.98L476.83,166.24L477.44,165.36L478.05,164.50L478.66,163.85L479.27,163.52L479.88,163.59L480.49,164.04L481.10,164.78L481.70,165.67L482.31,166.52L482.92,167.17L483.53,167.48L484.14,167.40L484.75,166.94L485.36,166.19L485.97,165.30L486.58,164.46L487.19,163.82L487.80,163.51L488.41,163.61L489.02,164.08L489.63,164.83L490.24,165.72L490.85,166.57L491.46,167.20L492.07,167.49L492.68,167.38L493.29,166.90L493.90,166.14L494.51,165.25L495.12,164.41L495.73,163.79L496.34,163.51L496.95,163.63L497.56,164.12L498.17,164.88L498.78,165.77L499.39,166.61L500.00,167.22L500.61,167.49L501.22,167.36L501.82,166.86L502.43,166.09L503.04,165.20L503.65,164.37L504.26,163.76L504.87,163.50L505.48,163.64L506.09,164.16L506.70,164.93L507.31,165.83L507.92,166.65L508.53,167.25L509.14,167.50L509.75,167.35L510.36,166.82L510.97,166.04L511.58,165.15L512.19,164.32L512.80,163.74L513.41,163.50L514.02,163.67L514.63,164.20L515.24,164.99L515.85,165.88L516.46,166.70L517.07,167.28L517.68,167.50L518.29,167.32L518.90,166.78L519.51,165.99L520.12,165.10L520.73,164.28L521.34,163.71L521.94,163.50L522.55,163.69L523.16,164.24L523.77,165.04L524.38,165.93L524.99,166.74L525.60,167.30L526.21,167.50L526.82,167.30L527.43,166.74L528.04,165.94L528.65,165.04L529.26,164.24L529.87,163.69L530.48,163.50L531.09,163.71L531.70,164.28" fill="none" stroke="#2f44a4" stroke-width="1.2" stroke-linejoin="round"/><path d="M431.10,163.50L431.71,163.70L432.32,164.26L432.93,165.07L433.54,165.96L434.15,166.76L434.76,167.31L435.37,167.50L435.98,167.29L436.59,166.72L437.20,165.91L437.81,165.01L438.42,164.22L439.03,163.68L439.64,163.50L440.25,163.72L440.86,164.30L441.46,165.12L442.07,166.01L442.68,166.80L443.29,167.33L443.90,167.50L444.51,167.26L445.12,166.68L445.73,165.86L446.34,164.96L446.95,164.18L447.56,163.66L448.17,163.50L448.78,163.75L449.39,164.34L450.00,165.17L450.61,166.06L451.22,166.84L451.83,167.35L452.44,167.50L453.05,167.24L453.66,166.63L454.27,165.80L454.88,164.91L455.49,164.14L456.10,163.64L456.71,163.51L457.32,163.77L457.93,164.39L458.54,165.22L459.15,166.11L459.76,166.88L460.37,167.37L460.98,167.49L461.58,167.21L462.19,166.59L462.80,165.75L463.41,164.86L464.02,164.10L464.63,163.62L465.24,163.51L465.85,163.80L466.46,164.43L467.07,165.27L467.68,166.16L468.29,166.92L468.90,167.39L469.51,167.49L470.12,167.18L470.73,166.55L471.34,165.70L471.95,164.81L472.56,164.06L473.17,163.60L473.78,163.52L474.39,163.83L475.00,164.48L475.61,165.33L476.22,166.21L476.83,166.96L477.44,167.41L478.05,167.48L478.66,167.16L479.27,166.50L479.88,165.65L480.49,164.76L481.10,164.03L481.70,163.58L482.31,163.53L482.92,163.86L483.53,164.52L484.14,165.38L484.75,166.26L485.36,166.99L485.97,167.42L486.58,167.47L487.19,167.12L487.80,166.45L488.41,165.59L489.02,164.71L489.63,163.99L490.24,163.57L490.85,163.53L491.46,163.89L492.07,164.57L492.68,165.43L493.29,166.31L493.90,167.03L494.51,167.44L495.12,167.46L495.73,167.09L496.34,166.41L496.95,165.54L497.56,164.67L498.17,163.96L498.78,163.56L499.39,163.54L500.00,163.92L500.61,164.62L501.22,165.49L501.82,166.36L502.43,167.06L503.04,167.45L503.65,167.45L504.26,167.06L504.87,166.36L505.48,165.49L506.09,164.62L506.70,163.92L507.31,163.55L507.92,163.56L508.53,163.96L509.14,164.66L509.75,165.54L510.36,166.41L510.97,167.09L511.58,167.46L512.19,167.44L512.80,167.03L513.41,166.31L514.02,165.44L514.63,164.57L515.24,163.89L515.85,163.53L516.46,163.57L517.07,163.99L517.68,164.71L518.29,165.59L518.90,166.45L519.51,167.12L520.12,167.47L520.73,167.42L521.34,166.99L521.94,166.26L522.55,165.38L523.16,164.52L523.77,163.86L524.38,163.53L524.99,163.58L525.60,164.03L526.21,164.76L526.82,165.64L527.43,166.50L528.04,167.15L528.65,167.48L529.26,167.41L529.87,166.96L530.48,166.21L531.09,165.33L531.70,164.48" fill="none" stroke="#d4282e" stroke-width="1.2" stroke-linejoin="round"/>
<rect x="423.90" y="184.20" width="113.90" height="65.10" fill="#eaf1fc" stroke="#9db6e2" stroke-width="0.9" />
<text x="430.60" y="202.10" font-size="10" fill="#3f86c8" textLength="70.80" lengthAdjust="spacingAndGlyphs">Short, &lt;400 bp</text>
<text x="490.00" y="230.90" font-size="10" textLength="40.20" lengthAdjust="spacingAndGlyphs">Indexing</text>
<path d="M441.60,237.64L442.21,238.38L442.83,238.82L443.44,238.87L444.05,238.53L444.67,237.85L445.28,236.99L445.90,236.10L446.51,235.38L447.12,234.96L447.74,234.94L448.35,235.31L448.96,236.01L449.58,236.88L450.19,237.76L450.81,238.47L451.42,238.85L452.03,238.84L452.65,238.44L453.26,237.73L453.87,236.85L454.49,235.98L455.10,235.29L455.72,234.93L456.33,234.97L456.94,235.40L457.56,236.13L458.17,237.02L458.78,237.88L459.40,238.55L460.01,238.88L460.63,238.81L461.24,238.35L461.85,237.60L462.47,236.71L463.08,235.86L463.69,235.22L464.31,234.91L464.92,235.01L465.54,235.49L466.15,236.26L466.76,237.15L467.38,238.00L467.99,238.62L468.60,238.89L469.22,238.76L469.83,238.26L470.45,237.48L471.06,236.58L471.67,235.75L472.29,235.15L472.90,234.90" fill="none" stroke="#2f44a4" stroke-width="1.2" stroke-linejoin="round"/><path d="M441.60,234.90L442.21,235.10L442.83,235.67L443.44,236.48L444.05,237.38L444.67,238.18L445.28,238.73L445.90,238.90L446.51,238.67L447.12,238.08L447.74,237.25L448.35,236.35L448.96,235.56L449.58,235.05L450.19,234.90L450.81,235.17L451.42,235.78L452.03,236.62L452.65,237.51L453.26,238.29L453.87,238.78L454.49,238.89L455.10,238.60L455.72,237.96L456.33,237.11L456.94,236.22L457.56,235.47L458.17,235.00L458.78,234.92L459.40,235.24L460.01,235.89L460.63,236.75L461.24,237.64L461.85,238.38L462.47,238.82L463.08,238.87L463.69,238.52L464.31,237.85L464.92,236.98L465.54,236.10L466.15,235.37L466.76,234.96L467.38,234.94L467.99,235.32L468.60,236.01L469.22,236.89L469.83,237.77L470.45,238.47L471.06,238.85L471.67,238.84L472.29,238.44L472.90,237.72" fill="none" stroke="#d4282e" stroke-width="1.2" stroke-linejoin="round"/>
<rect x="423.90" y="258.20" width="113.90" height="65.50" fill="#fde5e9" stroke="#9db6e2" stroke-width="0.9" />
<text x="433.00" y="274.60" font-size="10" fill="#3f86c8" textLength="84.50" lengthAdjust="spacingAndGlyphs">(Optional) miRNA,</text>
<text x="433.00" y="286.00" font-size="10" fill="#3f86c8" textLength="42.70" lengthAdjust="spacingAndGlyphs">18–50 bp</text>
<text x="473.50" y="305.30" font-size="10" textLength="61.10" lengthAdjust="spacingAndGlyphs">Gel selection</text>
<path d="M439.70,315.54L440.32,316.29L440.95,316.73L441.57,316.77L442.19,316.40L442.81,315.69L443.44,314.81L444.06,313.92L444.68,313.21L445.30,312.84L445.93,312.87L446.55,313.31L447.17,314.05L447.79,314.95L448.42,315.82L449.04,316.48L449.66,316.79L450.28,316.68L450.91,316.18L451.53,315.40L452.15,314.49L452.77,313.64L453.40,313.04L454.02,312.80L454.64,312.98L455.26,313.54L455.89,314.36L456.51,315.27L457.13,316.08L457.75,316.63L458.38,316.80L459.00,316.55" fill="none" stroke="#2f44a4" stroke-width="1.2" stroke-linejoin="round"/><path d="M439.70,312.80L440.32,313.01L440.95,313.59L441.57,314.42L442.19,315.33L442.81,316.13L443.44,316.66L444.06,316.79L444.68,316.52L445.30,315.88L445.93,315.02L446.55,314.11L447.17,313.35L447.79,312.89L448.42,312.83L449.04,313.17L449.66,313.86L450.28,314.74L450.91,315.63L451.53,316.35L452.15,316.75L452.77,316.74L453.40,316.33L454.02,315.60L454.64,314.70L455.26,313.82L455.89,313.15L456.51,312.82L457.13,312.90L457.75,313.38L458.38,314.15L459.00,315.06" fill="none" stroke="#d4282e" stroke-width="1.2" stroke-linejoin="round"/>
<text x="587.10" y="197.30" font-size="10" textLength="55.80" lengthAdjust="spacingAndGlyphs">Sequencing</text>
<polygon points="588.13,218.10 602.19,218.10 602.19,235.18 588.13,233.21" fill="#dad5cb" stroke="none" stroke-width="1" />
<polygon points="595.62,218.10 602.19,218.10 602.19,235.18 595.62,234.53" fill="#d0cac0" stroke="none" stroke-width="1" />
<polygon points="602.19,224.67 628.47,224.67 628.47,232.56 602.19,234.92" fill="#d3cdc3" stroke="none" stroke-width="1" />
<rect x="603.90" y="203.39" width="28.91" height="22.34" fill="#d9d2c6" stroke="#b8b0a4" stroke-width="0.4" rx="0.8"/>
<polygon points="605.74,205.23 631.23,205.23 631.23,224.02 605.74,224.02" fill="#4b4143" stroke="none" stroke-width="1" />
<polygon points="618.88,205.23 627.81,205.23 618.35,224.02 609.42,224.02" fill="#b6afa7" stroke="none" stroke-width="1" />
<polygon points="588.13,233.21 628.47,231.64 642.66,235.31 642.66,239.91 606.13,245.30 588.13,238.07" fill="#6f6866" stroke="none" stroke-width="1" />
<polygon points="589.71,234.13 628.47,232.03 642.00,235.58 606.53,241.75" fill="#8d8785" stroke="none" stroke-width="1" />
<polygon points="612.70,234.53 622.56,233.61 629.39,236.23 619.66,237.55" fill="#4a4446" stroke="none" stroke-width="1" />
<polygon points="588.13,238.07 606.13,245.30 642.66,239.91 642.66,242.54 606.13,248.45 588.13,240.83" fill="#8fd6a2" stroke="none" stroke-width="1" />
<polygon points="588.13,240.83 605.21,248.45 605.21,298.91 588.13,281.43" fill="#e2ddd4" stroke="none" stroke-width="1" />
<polygon points="589.71,244.38 602.85,250.29 602.85,263.04 589.71,256.21" fill="none" stroke="#cfc9bf" stroke-width="0.5" />
<polygon points="589.71,258.83 602.85,265.67 602.85,290.37 589.71,277.88" fill="none" stroke="#cfc9bf" stroke-width="0.5" />
<polygon points="605.21,248.45 642.66,242.54 642.66,287.74 605.21,298.91" fill="#d9d3c9" stroke="none" stroke-width="1" />
<polygon points="604.42,252.00 642.66,246.35 642.66,248.06 606.13,254.23" fill="#2f2a2c" stroke="none" stroke-width="1" />
<line x1="627.42" y1="250.95" x2="627.42" y2="292.07" stroke="#bfb8ad" stroke-width="0.5" />
<polygon points="588.13,281.43 605.21,298.91 642.66,287.74 642.66,288.79 605.21,300.22 588.13,282.48" fill="#4a4446" stroke="none" stroke-width="1" />
<polygon points="259.80,265.05 273.60,265.05 271.00,260.10 289.60,267.90 271.00,275.80 273.60,270.75 259.80,270.75" fill="#2b5f8f" stroke="none" stroke-width="1" />
<polygon points="383.40,265.05 397.20,265.05 394.60,260.10 413.20,267.90 394.60,275.80 397.20,270.75 383.40,270.75" fill="#2b5f8f" stroke="none" stroke-width="1" />
<polygon points="551.60,265.05 565.40,265.05 562.80,260.10 581.40,267.90 562.80,275.80 565.40,270.75 551.60,270.75" fill="#2b5f8f" stroke="none" stroke-width="1" />
</g>
<g id="panel_b">
<text x="0.20" y="341.50" font-size="18" fill="#000" font-weight="bold" stroke="#000" stroke-width="0.35">b</text>
<rect x="51.50" y="344.40" width="276.10" height="182.80" fill="#fff" stroke="#333333" stroke-width="0.8" />
<line x1="48.50" y1="524.40" x2="51.50" y2="524.40" stroke="#333333" stroke-width="0.7" />
<text x="44.50" y="527.40" font-size="8.4" text-anchor="end" textLength="23.75" lengthAdjust="spacingAndGlyphs">1,000</text>
<line x1="48.50" y1="503.96" x2="51.50" y2="503.96" stroke="#333333" stroke-width="0.7" />
<text x="44.50" y="506.96" font-size="8.4" text-anchor="end" textLength="23.75" lengthAdjust="spacingAndGlyphs">2,000</text>
<line x1="48.50" y1="483.53" x2="51.50" y2="483.53" stroke="#333333" stroke-width="0.7" />
<text x="44.50" y="486.53" font-size="8.4" text-anchor="end" textLength="23.75" lengthAdjust="spacingAndGlyphs">3,000</text>
<line x1="48.50" y1="463.09" x2="51.50" y2="463.09" stroke="#333333" stroke-width="0.7" />
<text x="44.50" y="466.09" font-size="8.4" text-anchor="end" textLength="23.75" lengthAdjust="spacingAndGlyphs">4,000</text>
<line x1="48.50" y1="442.66" x2="51.50" y2="442.66" stroke="#333333" stroke-width="0.7" />
<text x="44.50" y="445.66" font-size="8.4" text-anchor="end" textLength="23.75" lengthAdjust="spacingAndGlyphs">5,000</text>
<line x1="48.50" y1="422.22" x2="51.50" y2="422.22" stroke="#333333" stroke-width="0.7" />
<text x="44.50" y="425.22" font-size="8.4" text-anchor="end" textLength="23.75" lengthAdjust="spacingAndGlyphs">6,000</text>
<line x1="48.50" y1="401.79" x2="51.50" y2="401.79" stroke="#333333" stroke-width="0.7" />
<text x="44.50" y="404.79" font-size="8.4" text-anchor="end" textLength="23.75" lengthAdjust="spacingAndGlyphs">7,000</text>
<line x1="48.50" y1="381.36" x2="51.50" y2="381.36" stroke="#333333" stroke-width="0.7" />
<text x="44.50" y="384.36" font-size="8.4" text-anchor="end" textLength="23.75" lengthAdjust="spacingAndGlyphs">8,000</text>
<line x1="48.50" y1="360.92" x2="51.50" y2="360.92" stroke="#333333" stroke-width="0.7" />
<text x="44.50" y="363.92" font-size="8.4" text-anchor="end" textLength="23.75" lengthAdjust="spacingAndGlyphs">9,000</text>
<line x1="69.63" y1="527.20" x2="69.63" y2="530.20" stroke="#333333" stroke-width="0.7" />
<line x1="88.00" y1="527.20" x2="88.00" y2="530.20" stroke="#333333" stroke-width="0.7" />
<text x="88.00" y="540.20" font-size="8.4" text-anchor="middle" textLength="29.03" lengthAdjust="spacingAndGlyphs">10,000</text>
<line x1="106.37" y1="527.20" x2="106.37" y2="530.20" stroke="#333333" stroke-width="0.7" />
<line x1="124.73" y1="527.20" x2="124.73" y2="530.20" stroke="#333333" stroke-width="0.7" />
<text x="124.73" y="540.20" font-size="8.4" text-anchor="middle" textLength="29.03" lengthAdjust="spacingAndGlyphs">20,000</text>
<line x1="143.09" y1="527.20" x2="143.09" y2="530.20" stroke="#333333" stroke-width="0.7" />
<line x1="161.46" y1="527.20" x2="161.46" y2="530.20" stroke="#333333" stroke-width="0.7" />
<text x="161.46" y="540.20" font-size="8.4" text-anchor="middle" textLength="29.03" lengthAdjust="spacingAndGlyphs">30,000</text>
<line x1="179.82" y1="527.20" x2="179.82" y2="530.20" stroke="#333333" stroke-width="0.7" />
<line x1="198.19" y1="527.20" x2="198.19" y2="530.20" stroke="#333333" stroke-width="0.7" />
<text x="198.19" y="540.20" font-size="8.4" text-anchor="middle" textLength="29.03" lengthAdjust="spacingAndGlyphs">40,000</text>
<line x1="216.56" y1="527.20" x2="216.56" y2="530.20" stroke="#333333" stroke-width="0.7" />
<line x1="234.92" y1="527.20" x2="234.92" y2="530.20" stroke="#333333" stroke-width="0.7" />
<text x="234.92" y="540.20" font-size="8.4" text-anchor="middle" textLength="29.03" lengthAdjust="spacingAndGlyphs">50,000</text>
<line x1="253.28" y1="527.20" x2="253.28" y2="530.20" stroke="#333333" stroke-width="0.7" />
<line x1="271.65" y1="527.20" x2="271.65" y2="530.20" stroke="#333333" stroke-width="0.7" />
<text x="271.65" y="540.20" font-size="8.4" text-anchor="middle" textLength="29.03" lengthAdjust="spacingAndGlyphs">60,000</text>
<line x1="290.01" y1="527.20" x2="290.01" y2="530.20" stroke="#333333" stroke-width="0.7" />
<line x1="308.38" y1="527.20" x2="308.38" y2="530.20" stroke="#333333" stroke-width="0.7" />
<text x="308.38" y="540.20" font-size="8.4" text-anchor="middle" textLength="29.03" lengthAdjust="spacingAndGlyphs">70,000</text>
<text x="189.70" y="556.80" font-size="9.6" text-anchor="middle" textLength="102.50" lengthAdjust="spacingAndGlyphs">UMIs per cell (binned)</text>
<text x="13.00" y="435.30" font-size="9.6" text-anchor="middle" transform="rotate(-90 13.00 435.30)" textLength="159.00" lengthAdjust="spacingAndGlyphs">Average number of genes per cell</text>
<polyline points="69.63,518.68 88.00,485.98 106.37,463.09 124.73,449.20 143.09,438.57 161.46,430.07 179.82,421.37 198.19,413.27 216.56,406.16 234.92,399.87 253.28,393.86 271.65,387.47 290.01,383.56 308.38,378.06" fill="none" stroke="#1f77b4" stroke-width="1.3" stroke-linejoin="round"/>
<circle cx="69.63" cy="518.68" r="2.90" fill="#1f77b4" stroke="none" stroke-width="1" />
<circle cx="88.00" cy="485.98" r="2.90" fill="#1f77b4" stroke="none" stroke-width="1" />
<circle cx="106.37" cy="463.09" r="2.90" fill="#1f77b4" stroke="none" stroke-width="1" />
<circle cx="124.73" cy="449.20" r="2.90" fill="#1f77b4" stroke="none" stroke-width="1" />
<circle cx="143.09" cy="438.57" r="2.90" fill="#1f77b4" stroke="none" stroke-width="1" />
<circle cx="161.46" cy="430.07" r="2.90" fill="#1f77b4" stroke="none" stroke-width="1" />
<circle cx="179.82" cy="421.37" r="2.90" fill="#1f77b4" stroke="none" stroke-width="1" />
<circle cx="198.19" cy="413.27" r="2.90" fill="#1f77b4" stroke="none" stroke-width="1" />
<circle cx="216.56" cy="406.16" r="2.90" fill="#1f77b4" stroke="none" stroke-width="1" />
<circle cx="234.92" cy="399.87" r="2.90" fill="#1f77b4" stroke="none" stroke-width="1" />
<circle cx="253.28" cy="393.86" r="2.90" fill="#1f77b4" stroke="none" stroke-width="1" />
<circle cx="271.65" cy="387.47" r="2.90" fill="#1f77b4" stroke="none" stroke-width="1" />
<circle cx="290.01" cy="383.56" r="2.90" fill="#1f77b4" stroke="none" stroke-width="1" />
<circle cx="308.38" cy="378.06" r="2.90" fill="#1f77b4" stroke="none" stroke-width="1" />
<polyline points="69.63,488.43 88.00,459.62 106.37,438.57 124.73,422.63 143.09,410.37 161.46,400.36 179.82,391.96 198.19,384.36 216.56,377.55 234.92,373.06 253.28,368.05 271.65,363.07 290.01,359.14 308.38,355.18" fill="none" stroke="#ff7f0e" stroke-width="1.3" stroke-linejoin="round"/>
<circle cx="69.63" cy="488.43" r="2.90" fill="#ff7f0e" stroke="none" stroke-width="1" />
<circle cx="88.00" cy="459.62" r="2.90" fill="#ff7f0e" stroke="none" stroke-width="1" />
<circle cx="106.37" cy="438.57" r="2.90" fill="#ff7f0e" stroke="none" stroke-width="1" />
<circle cx="124.73" cy="422.63" r="2.90" fill="#ff7f0e" stroke="none" stroke-width="1" />
<circle cx="143.09" cy="410.37" r="2.90" fill="#ff7f0e" stroke="none" stroke-width="1" />
<circle cx="161.46" cy="400.36" r="2.90" fill="#ff7f0e" stroke="none" stroke-width="1" />
<circle cx="179.82" cy="391.96" r="2.90" fill="#ff7f0e" stroke="none" stroke-width="1" />
<circle cx="198.19" cy="384.36" r="2.90" fill="#ff7f0e" stroke="none" stroke-width="1" />
<circle cx="216.56" cy="377.55" r="2.90" fill="#ff7f0e" stroke="none" stroke-width="1" />
<circle cx="234.92" cy="373.06" r="2.90" fill="#ff7f0e" stroke="none" stroke-width="1" />
<circle cx="253.28" cy="368.05" r="2.90" fill="#ff7f0e" stroke="none" stroke-width="1" />
<circle cx="271.65" cy="363.07" r="2.90" fill="#ff7f0e" stroke="none" stroke-width="1" />
<circle cx="290.01" cy="359.14" r="2.90" fill="#ff7f0e" stroke="none" stroke-width="1" />
<circle cx="308.38" cy="355.18" r="2.90" fill="#ff7f0e" stroke="none" stroke-width="1" />
<polyline points="69.63,491.70 88.00,470.86 106.37,448.38 124.73,433.26 143.09,420.18 161.46,406.67 179.82,396.17 198.19,387.47 216.56,379.88 234.92,373.57 253.28,367.01 271.65,360.72 290.01,356.77 308.38,352.56" fill="none" stroke="#2ca02c" stroke-width="1.3" stroke-linejoin="round"/>
<circle cx="69.63" cy="491.70" r="2.90" fill="#2ca02c" stroke="none" stroke-width="1" />
<circle cx="88.00" cy="470.86" r="2.90" fill="#2ca02c" stroke="none" stroke-width="1" />
<circle cx="106.37" cy="448.38" r="2.90" fill="#2ca02c" stroke="none" stroke-width="1" />
<circle cx="124.73" cy="433.26" r="2.90" fill="#2ca02c" stroke="none" stroke-width="1" />
<circle cx="143.09" cy="420.18" r="2.90" fill="#2ca02c" stroke="none" stroke-width="1" />
<circle cx="161.46" cy="406.67" r="2.90" fill="#2ca02c" stroke="none" stroke-width="1" />
<circle cx="179.82" cy="396.17" r="2.90" fill="#2ca02c" stroke="none" stroke-width="1" />
<circle cx="198.19" cy="387.47" r="2.90" fill="#2ca02c" stroke="none" stroke-width="1" />
<circle cx="216.56" cy="379.88" r="2.90" fill="#2ca02c" stroke="none" stroke-width="1" />
<circle cx="234.92" cy="373.57" r="2.90" fill="#2ca02c" stroke="none" stroke-width="1" />
<circle cx="253.28" cy="367.01" r="2.90" fill="#2ca02c" stroke="none" stroke-width="1" />
<circle cx="271.65" cy="360.72" r="2.90" fill="#2ca02c" stroke="none" stroke-width="1" />
<circle cx="290.01" cy="356.77" r="2.90" fill="#2ca02c" stroke="none" stroke-width="1" />
<circle cx="308.38" cy="352.56" r="2.90" fill="#2ca02c" stroke="none" stroke-width="1" />
<line x1="58.20" y1="355.20" x2="75.30" y2="355.20" stroke="#1f77b4" stroke-width="1.3" />
<circle cx="66.70" cy="355.20" r="2.90" fill="#1f77b4" stroke="none" stroke-width="1" />
<text x="82.10" y="358.70" font-size="10" textLength="65.83" lengthAdjust="spacingAndGlyphs">10x Genomics</text>
<line x1="58.20" y1="367.15" x2="75.30" y2="367.15" stroke="#ff7f0e" stroke-width="1.3" />
<circle cx="66.70" cy="367.15" r="2.90" fill="#ff7f0e" stroke="none" stroke-width="1" />
<text x="82.10" y="370.65" font-size="10" textLength="46.75" lengthAdjust="spacingAndGlyphs">VASA-seq</text>
<line x1="58.20" y1="379.10" x2="75.30" y2="379.10" stroke="#2ca02c" stroke-width="1.3" />
<circle cx="66.70" cy="379.10" r="2.90" fill="#2ca02c" stroke="none" stroke-width="1" />
<text x="82.10" y="382.60" font-size="10" textLength="28.63" lengthAdjust="spacingAndGlyphs">TotalX</text>
</g>
<g id="panel_c">
<text x="355.30" y="341.70" font-size="18" fill="#000" font-weight="bold" stroke="#000" stroke-width="0.35">c</text>
<text x="522.00" y="352.10" font-size="9.8" text-anchor="middle" textLength="168.50" lengthAdjust="spacingAndGlyphs">Gene detection after downsampling</text>
<text x="522.30" y="364.10" font-size="9.8" text-anchor="middle" textLength="74.00" lengthAdjust="spacingAndGlyphs">to 20,000 UMIs</text>
<rect x="431.50" y="368.60" width="180.80" height="142.50" fill="#fff" stroke="#333333" stroke-width="0.8" />
<line x1="428.50" y1="511.30" x2="431.50" y2="511.30" stroke="#333333" stroke-width="0.7" />
<text x="424.50" y="514.30" font-size="8.4" text-anchor="end">0</text>
<line x1="428.50" y1="478.70" x2="431.50" y2="478.70" stroke="#333333" stroke-width="0.7" />
<text x="424.50" y="481.70" font-size="8.4" text-anchor="end" textLength="23.75" lengthAdjust="spacingAndGlyphs">2,000</text>
<line x1="428.50" y1="446.10" x2="431.50" y2="446.10" stroke="#333333" stroke-width="0.7" />
<text x="424.50" y="449.10" font-size="8.4" text-anchor="end" textLength="23.75" lengthAdjust="spacingAndGlyphs">4,000</text>
<line x1="428.50" y1="413.50" x2="431.50" y2="413.50" stroke="#333333" stroke-width="0.7" />
<text x="424.50" y="416.50" font-size="8.4" text-anchor="end" textLength="23.75" lengthAdjust="spacingAndGlyphs">6,000</text>
<line x1="428.50" y1="380.90" x2="431.50" y2="380.90" stroke="#333333" stroke-width="0.7" />
<text x="424.50" y="383.90" font-size="8.4" text-anchor="end" textLength="23.75" lengthAdjust="spacingAndGlyphs">8,000</text>
<text x="393.50" y="440.50" font-size="9.6" text-anchor="middle" transform="rotate(-90 393.50 440.50)" textLength="101.00" lengthAdjust="spacingAndGlyphs">Unique genes per cell</text>
<line x1="461.30" y1="511.10" x2="461.30" y2="514.10" stroke="#333333" stroke-width="0.7" />
<line x1="521.70" y1="511.10" x2="521.70" y2="514.10" stroke="#333333" stroke-width="0.7" />
<line x1="582.20" y1="511.10" x2="582.20" y2="514.10" stroke="#333333" stroke-width="0.7" />
<text x="445.00" y="380.3" font-size="8.1"><tspan font-style="italic">n</tspan> = 2,776</text>
<text x="505.40" y="380.3" font-size="8.1"><tspan font-style="italic">n</tspan> = 603</text>
<text x="565.90" y="380.3" font-size="8.1"><tspan font-style="italic">n</tspan> = 3,705</text>
<path d="M461.57,413.10C461.70,414.08 461.71,417.33 461.84,419.00C461.98,420.67 462.11,421.97 462.38,423.10C462.65,424.23 462.65,424.90 463.46,425.80C464.27,426.70 465.58,427.73 467.24,428.50C468.90,429.27 471.25,429.73 473.45,430.40C475.65,431.07 478.67,431.78 480.47,432.50C482.27,433.22 483.39,434.02 484.25,434.70C485.11,435.38 485.60,435.97 485.60,436.60C485.60,437.23 485.24,437.83 484.25,438.50C483.26,439.17 481.46,439.88 479.66,440.60C477.86,441.32 475.38,442.08 473.45,442.80C471.51,443.52 469.54,444.13 468.05,444.90C466.56,445.67 465.44,446.53 464.54,447.40C463.64,448.27 463.10,448.98 462.65,450.10C462.20,451.22 462.02,450.50 461.84,454.10C461.66,457.70 461.70,468.77 461.57,471.70C461.44,474.63 461.17,474.63 461.03,471.70C460.90,468.77 460.94,457.70 460.76,454.10C460.58,450.50 460.40,451.22 459.95,450.10C459.50,448.98 458.96,448.27 458.06,447.40C457.16,446.53 456.04,445.67 454.55,444.90C453.06,444.13 451.09,443.52 449.15,442.80C447.22,442.08 444.74,441.32 442.94,440.60C441.14,439.88 439.34,439.17 438.35,438.50C437.36,437.83 437.00,437.23 437.00,436.60C437.00,435.97 437.50,435.38 438.35,434.70C439.21,434.02 440.33,433.22 442.13,432.50C443.93,431.78 446.95,431.07 449.15,430.40C451.36,429.73 453.70,429.27 455.36,428.50C457.02,427.73 458.33,426.70 459.14,425.80C459.95,424.90 459.95,424.23 460.22,423.10C460.49,421.97 460.62,420.67 460.76,419.00C460.89,417.33 460.90,414.08 461.03,413.10C461.17,412.12 461.44,412.12 461.57,413.10Z" fill="#3274a1" stroke="#333" stroke-width="0.9"/>
<line x1="461.30" y1="413.60" x2="461.30" y2="471.20" stroke="#3a3a3a" stroke-width="0.9" />
<rect x="459.10" y="429.80" width="4.40" height="12.20" fill="#3a3a3a" stroke="none" stroke-width="1" />
<line x1="459.10" y1="436.00" x2="463.50" y2="436.00" stroke="#fff" stroke-width="1.3" />
<path d="M521.97,385.30C522.29,385.75 522.74,387.10 523.32,388.00C523.91,388.90 524.62,389.80 525.48,390.70C526.34,391.60 527.28,392.50 528.45,393.40C529.62,394.30 531.01,395.20 532.50,396.10C533.99,397.00 535.78,397.90 537.36,398.80C538.94,399.70 540.69,400.60 541.95,401.50C543.21,402.40 544.25,403.30 544.92,404.20C545.60,405.10 546.00,406.00 546.00,406.90C546.00,407.80 545.60,408.70 544.92,409.60C544.25,410.50 543.21,411.18 541.95,412.30C540.69,413.42 538.71,414.95 537.36,416.30C536.01,417.65 534.84,419.05 533.85,420.40C532.86,421.75 532.19,422.83 531.42,424.40C530.66,425.97 529.75,428.00 529.26,429.80C528.76,431.60 528.63,433.40 528.45,435.20C528.27,437.00 528.14,438.80 528.18,440.60C528.23,442.40 528.45,444.20 528.72,446.00C528.99,447.80 529.44,449.60 529.80,451.40C530.16,453.20 530.61,455.00 530.88,456.80C531.15,458.60 531.38,460.62 531.42,462.20C531.47,463.78 531.38,464.95 531.15,466.30C530.93,467.65 530.52,468.95 530.07,470.30C529.62,471.65 529.04,473.05 528.45,474.40C527.87,475.75 527.19,477.05 526.56,478.40C525.93,479.75 525.21,481.15 524.67,482.50C524.13,483.85 523.68,485.15 523.32,486.50C522.96,487.85 522.74,488.88 522.51,490.60C522.28,492.32 522.15,495.77 521.97,496.80C521.79,497.83 521.61,497.83 521.43,496.80C521.25,495.77 521.12,492.32 520.89,490.60C520.67,488.88 520.44,487.85 520.08,486.50C519.72,485.15 519.27,483.85 518.73,482.50C518.19,481.15 517.47,479.75 516.84,478.40C516.21,477.05 515.54,475.75 514.95,474.40C514.37,473.05 513.78,471.65 513.33,470.30C512.88,468.95 512.48,467.65 512.25,466.30C512.02,464.95 511.94,463.78 511.98,462.20C512.03,460.62 512.25,458.60 512.52,456.80C512.79,455.00 513.24,453.20 513.60,451.40C513.96,449.60 514.41,447.80 514.68,446.00C514.95,444.20 515.18,442.40 515.22,440.60C515.26,438.80 515.13,437.00 514.95,435.20C514.77,433.40 514.64,431.60 514.14,429.80C513.65,428.00 512.75,425.97 511.98,424.40C511.22,422.83 510.54,421.75 509.55,420.40C508.56,419.05 507.39,417.65 506.04,416.30C504.69,414.95 502.71,413.42 501.45,412.30C500.19,411.18 499.16,410.50 498.48,409.60C497.81,408.70 497.40,407.80 497.40,406.90C497.40,406.00 497.81,405.10 498.48,404.20C499.16,403.30 500.19,402.40 501.45,401.50C502.71,400.60 504.47,399.70 506.04,398.80C507.62,397.90 509.42,397.00 510.90,396.10C512.38,395.20 513.78,394.30 514.95,393.40C516.12,392.50 517.07,391.60 517.92,390.70C518.78,389.80 519.50,388.90 520.08,388.00C520.67,387.10 521.12,385.75 521.43,385.30C521.75,384.85 521.65,384.85 521.97,385.30Z" fill="#e1812c" stroke="#333" stroke-width="0.9"/>
<line x1="521.70" y1="399.60" x2="521.70" y2="496.50" stroke="#3a3a3a" stroke-width="0.9" />
<rect x="519.50" y="404.20" width="4.40" height="49.40" fill="#3a3a3a" stroke="none" stroke-width="1" />
<line x1="519.50" y1="416.00" x2="523.90" y2="416.00" stroke="#fff" stroke-width="1.3" />
<path d="M582.47,388.80C582.61,390.68 582.56,397.32 582.74,400.10C582.92,402.88 583.19,404.15 583.55,405.50C583.91,406.85 584.23,407.38 584.90,408.20C585.58,409.02 586.34,409.72 587.60,410.40C588.86,411.08 590.66,411.68 592.46,412.30C594.26,412.92 596.42,413.43 598.40,414.10C600.38,414.77 602.95,415.62 604.34,416.30C605.74,416.98 606.68,417.52 606.77,418.20C606.86,418.88 606.10,419.58 604.88,420.40C603.66,421.22 601.19,422.20 599.48,423.10C597.77,424.00 596.06,424.90 594.62,425.80C593.18,426.70 592.01,427.60 590.84,428.50C589.67,429.40 588.50,430.30 587.60,431.20C586.70,432.10 586.07,433.00 585.44,433.90C584.81,434.80 584.23,435.48 583.82,436.60C583.42,437.72 583.21,439.03 583.01,440.60C582.81,442.17 582.70,442.85 582.61,446.00C582.52,449.15 582.58,457.25 582.47,459.50C582.36,461.75 582.04,461.75 581.93,459.50C581.82,457.25 581.88,449.15 581.79,446.00C581.70,442.85 581.59,442.17 581.39,440.60C581.19,439.03 580.99,437.72 580.58,436.60C580.18,435.48 579.59,434.80 578.96,433.90C578.33,433.00 577.70,432.10 576.80,431.20C575.90,430.30 574.73,429.40 573.56,428.50C572.39,427.60 571.22,426.70 569.78,425.80C568.34,424.90 566.63,424.00 564.92,423.10C563.21,422.20 560.74,421.22 559.52,420.40C558.31,419.58 557.54,418.88 557.63,418.20C557.72,417.52 558.67,416.98 560.06,416.30C561.46,415.62 564.02,414.77 566.00,414.10C567.98,413.43 570.14,412.92 571.94,412.30C573.74,411.68 575.54,411.08 576.80,410.40C578.06,409.72 578.83,409.02 579.50,408.20C580.17,407.38 580.49,406.85 580.85,405.50C581.21,404.15 581.48,402.88 581.66,400.10C581.84,397.32 581.80,390.68 581.93,388.80C582.07,386.92 582.34,386.92 582.47,388.80Z" fill="#3a923a" stroke="#333" stroke-width="0.9"/>
<line x1="582.20" y1="389.20" x2="582.20" y2="459.20" stroke="#3a3a3a" stroke-width="0.9" />
<rect x="580.00" y="413.00" width="4.40" height="14.60" fill="#3a3a3a" stroke="none" stroke-width="1" />
<line x1="580.00" y1="420.00" x2="584.40" y2="420.00" stroke="#fff" stroke-width="1.3" />
<text x="464.80" y="519.90" font-size="9.6" text-anchor="end" transform="rotate(-45 464.80 519.90)" textLength="67.50" lengthAdjust="spacingAndGlyphs">10x Genomics</text>
<text x="525.20" y="519.90" font-size="9.6" text-anchor="end" transform="rotate(-45 525.20 519.90)" textLength="47.93" lengthAdjust="spacingAndGlyphs">VASA-seq</text>
<text x="585.70" y="519.90" font-size="9.6" text-anchor="end" transform="rotate(-45 585.70 519.90)" textLength="29.35" lengthAdjust="spacingAndGlyphs">TotalX</text>
</g>
<g id="panel_d">
<text x="-0.40" y="583.00" font-size="18" fill="#000" font-weight="bold" stroke="#000" stroke-width="0.35">d</text>
<text x="95.50" y="583.00" font-size="9.8" text-anchor="middle" textLength="66.40" lengthAdjust="spacingAndGlyphs">10x Genomics</text>
<text x="95.50" y="595.00" font-size="9.8" text-anchor="middle" textLength="56.58" lengthAdjust="spacingAndGlyphs">(4,807 cells)</text>
<circle cx="95.50" cy="690.30" r="83.81" fill="none" stroke="#d2d2d2" stroke-width="11.175" />
<path d="M95.50,600.90A89.40,89.40 0 1 0 184.68,696.54L173.53,695.76A78.23,78.23 0 1 1 95.50,612.07Z" fill="#1f77b4" stroke="#fff" stroke-width="0.7"/>
<circle cx="95.50" cy="690.30" r="72.64" fill="none" stroke="#d2d2d2" stroke-width="11.175" />
<path d="M95.50,612.07A78.23,78.23 0 0 0 18.16,702.05L29.21,700.37A67.05,67.05 0 0 1 95.50,623.25Z" fill="#aec7e8" stroke="#fff" stroke-width="0.7"/>
<circle cx="95.50" cy="690.30" r="61.46" fill="none" stroke="#d2d2d2" stroke-width="11.175" />
<circle cx="95.50" cy="690.30" r="50.29" fill="none" stroke="#d2d2d2" stroke-width="11.175" />
<circle cx="95.50" cy="690.30" r="39.11" fill="none" stroke="#d2d2d2" stroke-width="11.175" />
<circle cx="95.50" cy="690.30" r="27.94" fill="none" stroke="#d2d2d2" stroke-width="11.175" />
<circle cx="95.50" cy="690.30" r="16.76" fill="none" stroke="#d2d2d2" stroke-width="11.175" />
<circle cx="95.50" cy="690.30" r="11.17" fill="#d2d2d2" stroke="none" stroke-width="1" />
<path d="M95.50,690.30L95.50,679.12A11.17,11.17 0 1 0 103.72,697.87Z" fill="#f59a9b" stroke="#fff" stroke-width="0.7"/>
<line x1="95.50" y1="690.30" x2="95.50" y2="600.90" stroke="#fff" stroke-width="0.8" />
<circle cx="95.50" cy="690.30" r="78.23" fill="none" stroke="#fff" stroke-width="0.85" />
<circle cx="95.50" cy="690.30" r="67.05" fill="none" stroke="#fff" stroke-width="0.85" />
<circle cx="95.50" cy="690.30" r="55.88" fill="none" stroke="#fff" stroke-width="0.85" />
<circle cx="95.50" cy="690.30" r="44.70" fill="none" stroke="#fff" stroke-width="0.85" />
<circle cx="95.50" cy="690.30" r="33.53" fill="none" stroke="#fff" stroke-width="0.85" />
<circle cx="95.50" cy="690.30" r="22.35" fill="none" stroke="#fff" stroke-width="0.85" />
<circle cx="95.50" cy="690.30" r="11.17" fill="none" stroke="#fff" stroke-width="0.85" />
<text x="95.50" y="608.69" font-size="6.5" text-anchor="middle" fill="#222" textLength="39.70" lengthAdjust="spacingAndGlyphs">14,270/19,313</text>
<text x="95.50" y="619.86" font-size="6.5" text-anchor="middle" fill="#222" textLength="36.25" lengthAdjust="spacingAndGlyphs">5,083/18,551</text>
<text x="95.50" y="631.04" font-size="6.5" text-anchor="middle" fill="#222" textLength="20.71" lengthAdjust="spacingAndGlyphs">0/2,220</text>
<text x="95.50" y="642.21" font-size="6.5" text-anchor="middle" fill="#222" textLength="20.71" lengthAdjust="spacingAndGlyphs">0/1,910</text>
<text x="95.50" y="653.39" font-size="6.5" text-anchor="middle" fill="#222" textLength="20.71" lengthAdjust="spacingAndGlyphs">0/1,877</text>
<text x="95.50" y="664.56" font-size="6.5" text-anchor="middle" fill="#222" textLength="15.53" lengthAdjust="spacingAndGlyphs">0/942</text>
<text x="95.50" y="675.74" font-size="6.5" text-anchor="middle" fill="#222" textLength="15.53" lengthAdjust="spacingAndGlyphs">0/535</text>
<text x="95.50" y="686.91" font-size="6.5" text-anchor="middle" fill="#222" textLength="15.53" lengthAdjust="spacingAndGlyphs">60/95</text>
<text x="287.30" y="583.00" font-size="9.8" text-anchor="middle" textLength="47.15" lengthAdjust="spacingAndGlyphs">VASA-seq</text>
<text x="287.30" y="595.00" font-size="9.8" text-anchor="middle" textLength="47.92" lengthAdjust="spacingAndGlyphs">(877 cells)</text>
<circle cx="287.30" cy="690.30" r="83.81" fill="none" stroke="#d2d2d2" stroke-width="11.175" />
<path d="M287.30,600.90A89.40,89.40 0 1 0 376.05,679.56L364.96,680.90A78.23,78.23 0 1 1 287.30,612.07Z" fill="#1f77b4" stroke="#fff" stroke-width="0.7"/>
<circle cx="287.30" cy="690.30" r="72.64" fill="none" stroke="#d2d2d2" stroke-width="11.175" />
<path d="M287.30,612.07A78.23,78.23 0 0 0 213.63,716.60L224.15,712.84A67.05,67.05 0 0 1 287.30,623.25Z" fill="#aec7e8" stroke="#fff" stroke-width="0.7"/>
<circle cx="287.30" cy="690.30" r="61.46" fill="none" stroke="#d2d2d2" stroke-width="11.175" />
<path d="M287.30,623.25A67.05,67.05 0 0 0 257.45,630.26L262.43,640.27A55.88,55.88 0 0 1 287.30,634.42Z" fill="#f57e20" stroke="#fff" stroke-width="0.7"/>
<circle cx="287.30" cy="690.30" r="50.29" fill="none" stroke="#d2d2d2" stroke-width="11.175" />
<path d="M287.30,634.42A55.88,55.88 0 0 0 271.00,636.86L274.26,647.54A44.70,44.70 0 0 1 287.30,645.60Z" fill="#fdba78" stroke="#fff" stroke-width="0.7"/>
<circle cx="287.30" cy="690.30" r="39.11" fill="none" stroke="#d2d2d2" stroke-width="11.175" />
<path d="M287.30,645.60A44.70,44.70 0 0 0 283.41,645.77L284.39,656.90A33.53,33.53 0 0 1 287.30,656.77Z" fill="#2ca02c" stroke="#fff" stroke-width="0.7"/>
<circle cx="287.30" cy="690.30" r="27.94" fill="none" stroke="#d2d2d2" stroke-width="11.175" />
<path d="M287.30,656.77A33.53,33.53 0 0 0 254.03,694.43L265.12,693.05A22.35,22.35 0 0 1 287.30,667.95Z" fill="#98d48a" stroke="#fff" stroke-width="0.7"/>
<circle cx="287.30" cy="690.30" r="16.76" fill="none" stroke="#d2d2d2" stroke-width="11.175" />
<path d="M287.30,667.95A22.35,22.35 0 1 0 305.72,702.95L296.51,696.63A11.17,11.17 0 1 1 287.30,679.12Z" fill="#9b479f" stroke="#fff" stroke-width="0.7"/>
<circle cx="287.30" cy="690.30" r="11.17" fill="#d2d2d2" stroke="none" stroke-width="1" />
<path d="M287.30,690.30L287.30,679.12A11.17,11.17 0 1 0 295.52,697.87Z" fill="#f59a9b" stroke="#fff" stroke-width="0.7"/>
<line x1="287.30" y1="690.30" x2="287.30" y2="600.90" stroke="#fff" stroke-width="0.8" />
<circle cx="287.30" cy="690.30" r="78.23" fill="none" stroke="#fff" stroke-width="0.85" />
<circle cx="287.30" cy="690.30" r="67.05" fill="none" stroke="#fff" stroke-width="0.85" />
<circle cx="287.30" cy="690.30" r="55.88" fill="none" stroke="#fff" stroke-width="0.85" />
<circle cx="287.30" cy="690.30" r="44.70" fill="none" stroke="#fff" stroke-width="0.85" />
<circle cx="287.30" cy="690.30" r="33.53" fill="none" stroke="#fff" stroke-width="0.85" />
<circle cx="287.30" cy="690.30" r="22.35" fill="none" stroke="#fff" stroke-width="0.85" />
<circle cx="287.30" cy="690.30" r="11.17" fill="none" stroke="#fff" stroke-width="0.85" />
<text x="287.30" y="608.69" font-size="6.5" text-anchor="middle" fill="#222" textLength="39.70" lengthAdjust="spacingAndGlyphs">14,855/19,313</text>
<text x="287.30" y="619.86" font-size="6.5" text-anchor="middle" fill="#222" textLength="36.25" lengthAdjust="spacingAndGlyphs">5,650/18,551</text>
<text x="287.30" y="631.04" font-size="6.5" text-anchor="middle" fill="#222" textLength="27.62" lengthAdjust="spacingAndGlyphs">163/2,220</text>
<text x="287.30" y="642.21" font-size="6.5" text-anchor="middle" fill="#222" textLength="24.16" lengthAdjust="spacingAndGlyphs">90/1,910</text>
<text x="287.30" y="653.39" font-size="6.5" text-anchor="middle" fill="#222" textLength="24.16" lengthAdjust="spacingAndGlyphs">26/1,877</text>
<text x="287.30" y="664.56" font-size="6.5" text-anchor="middle" fill="#222" textLength="22.44" lengthAdjust="spacingAndGlyphs">254/942</text>
<text x="287.30" y="675.74" font-size="6.5" text-anchor="middle" fill="#222" textLength="22.44" lengthAdjust="spacingAndGlyphs">350/535</text>
<text x="287.30" y="686.91" font-size="6.5" text-anchor="middle" fill="#222" textLength="15.53" lengthAdjust="spacingAndGlyphs">60/95</text>
<text x="476.10" y="583.00" font-size="9.8" text-anchor="middle" textLength="28.87" lengthAdjust="spacingAndGlyphs">TotalX</text>
<text x="476.10" y="595.00" font-size="9.8" text-anchor="middle" textLength="61.59" lengthAdjust="spacingAndGlyphs">(11,945 cells)</text>
<circle cx="476.10" cy="690.30" r="83.81" fill="none" stroke="#d2d2d2" stroke-width="11.175" />
<path d="M476.10,600.90A89.40,89.40 0 1 0 562.93,669.03L552.08,671.69A78.23,78.23 0 1 1 476.10,612.07Z" fill="#1f77b4" stroke="#fff" stroke-width="0.7"/>
<circle cx="476.10" cy="690.30" r="72.64" fill="none" stroke="#d2d2d2" stroke-width="11.175" />
<path d="M476.10,612.07A78.23,78.23 0 1 0 518.86,755.80L512.75,746.45A67.05,67.05 0 1 1 476.10,623.25Z" fill="#aec7e8" stroke="#fff" stroke-width="0.7"/>
<circle cx="476.10" cy="690.30" r="61.46" fill="none" stroke="#d2d2d2" stroke-width="11.175" />
<path d="M476.10,623.25A67.05,67.05 0 0 0 442.58,632.23L448.16,641.91A55.88,55.88 0 0 1 476.10,634.42Z" fill="#f57e20" stroke="#fff" stroke-width="0.7"/>
<circle cx="476.10" cy="690.30" r="50.29" fill="none" stroke="#d2d2d2" stroke-width="11.175" />
<path d="M476.10,634.42A55.88,55.88 0 0 0 431.06,657.23L440.07,663.85A44.70,44.70 0 0 1 476.10,645.60Z" fill="#fdba78" stroke="#fff" stroke-width="0.7"/>
<circle cx="476.10" cy="690.30" r="39.11" fill="none" stroke="#d2d2d2" stroke-width="11.175" />
<path d="M476.10,645.60A44.70,44.70 0 0 0 447.66,655.81L454.77,664.43A33.53,33.53 0 0 1 476.10,656.77Z" fill="#2ca02c" stroke="#fff" stroke-width="0.7"/>
<circle cx="476.10" cy="690.30" r="27.94" fill="none" stroke="#d2d2d2" stroke-width="11.175" />
<path d="M476.10,656.77A33.53,33.53 0 0 0 443.51,698.16L454.37,695.54A22.35,22.35 0 0 1 476.10,667.95Z" fill="#98d48a" stroke="#fff" stroke-width="0.7"/>
<circle cx="476.10" cy="690.30" r="16.76" fill="none" stroke="#d2d2d2" stroke-width="11.175" />
<path d="M476.10,667.95A22.35,22.35 0 1 0 496.77,698.81L486.43,694.55A11.17,11.17 0 1 1 476.10,679.12Z" fill="#9b479f" stroke="#fff" stroke-width="0.7"/>
<circle cx="476.10" cy="690.30" r="11.17" fill="#d2d2d2" stroke="none" stroke-width="1" />
<path d="M476.10,690.30L476.10,679.12A11.17,11.17 0 1 0 486.18,685.48Z" fill="#f59a9b" stroke="#fff" stroke-width="0.7"/>
<line x1="476.10" y1="690.30" x2="476.10" y2="600.90" stroke="#fff" stroke-width="0.8" />
<circle cx="476.10" cy="690.30" r="78.23" fill="none" stroke="#fff" stroke-width="0.85" />
<circle cx="476.10" cy="690.30" r="67.05" fill="none" stroke="#fff" stroke-width="0.85" />
<circle cx="476.10" cy="690.30" r="55.88" fill="none" stroke="#fff" stroke-width="0.85" />
<circle cx="476.10" cy="690.30" r="44.70" fill="none" stroke="#fff" stroke-width="0.85" />
<circle cx="476.10" cy="690.30" r="33.53" fill="none" stroke="#fff" stroke-width="0.85" />
<circle cx="476.10" cy="690.30" r="22.35" fill="none" stroke="#fff" stroke-width="0.85" />
<circle cx="476.10" cy="690.30" r="11.17" fill="none" stroke="#fff" stroke-width="0.85" />
<text x="476.10" y="608.69" font-size="6.5" text-anchor="middle" fill="#222" textLength="39.70" lengthAdjust="spacingAndGlyphs">15,223/19,313</text>
<text x="476.10" y="619.86" font-size="6.5" text-anchor="middle" fill="#222" textLength="39.70" lengthAdjust="spacingAndGlyphs">10,983/18,551</text>
<text x="476.10" y="631.04" font-size="6.5" text-anchor="middle" fill="#222" textLength="27.62" lengthAdjust="spacingAndGlyphs">185/2,220</text>
<text x="476.10" y="642.21" font-size="6.5" text-anchor="middle" fill="#222" textLength="27.62" lengthAdjust="spacingAndGlyphs">285/1,910</text>
<text x="476.10" y="653.39" font-size="6.5" text-anchor="middle" fill="#222" textLength="27.62" lengthAdjust="spacingAndGlyphs">206/1,877</text>
<text x="476.10" y="664.56" font-size="6.5" text-anchor="middle" fill="#222" textLength="22.44" lengthAdjust="spacingAndGlyphs">271/942</text>
<text x="476.10" y="675.74" font-size="6.5" text-anchor="middle" fill="#222" textLength="22.44" lengthAdjust="spacingAndGlyphs">368/535</text>
<text x="476.10" y="686.91" font-size="6.5" text-anchor="middle" fill="#222" textLength="15.53" lengthAdjust="spacingAndGlyphs">78/95</text>
<text x="592.70" y="590.60" font-size="9.7" textLength="40.30" lengthAdjust="spacingAndGlyphs">Biotypes</text>
<rect x="575.90" y="597.80" width="10.60" height="2.80" fill="#1f77b4" stroke="none" stroke-width="1" />
<text x="592.70" y="602.50" font-size="9.7" textLength="91.50" lengthAdjust="spacingAndGlyphs">Protein-coding RNA</text>
<rect x="575.90" y="609.75" width="10.60" height="2.80" fill="#aec7e8" stroke="none" stroke-width="1" />
<text x="592.70" y="614.45" font-size="9.7" textLength="34.40" lengthAdjust="spacingAndGlyphs">lncRNA</text>
<rect x="575.90" y="621.70" width="10.60" height="2.80" fill="#f57e20" stroke="none" stroke-width="1" />
<text x="592.70" y="626.40" font-size="9.7" textLength="41.60" lengthAdjust="spacingAndGlyphs">miscRNA</text>
<rect x="575.90" y="633.65" width="10.60" height="2.80" fill="#fdba78" stroke="none" stroke-width="1" />
<text x="592.70" y="638.35" font-size="9.7" textLength="30.60" lengthAdjust="spacingAndGlyphs">snRNA</text>
<rect x="575.90" y="645.60" width="10.60" height="2.80" fill="#2ca02c" stroke="none" stroke-width="1" />
<text x="592.70" y="650.30" font-size="9.7" textLength="31.40" lengthAdjust="spacingAndGlyphs">miRNA</text>
<rect x="575.90" y="657.55" width="10.60" height="2.80" fill="#98d48a" stroke="none" stroke-width="1" />
<text x="592.70" y="662.25" font-size="9.7" textLength="36.40" lengthAdjust="spacingAndGlyphs">snoRNA</text>
<rect x="575.90" y="669.50" width="10.60" height="2.80" fill="#9b479f" stroke="none" stroke-width="1" />
<text x="592.70" y="674.20" font-size="9.7" textLength="23.00" lengthAdjust="spacingAndGlyphs">tRNA</text>
<rect x="575.90" y="681.45" width="10.60" height="2.80" fill="#f59a9b" stroke="none" stroke-width="1" />
<text x="592.70" y="686.15" font-size="9.7" textLength="58.40" lengthAdjust="spacingAndGlyphs">Histone RNA</text>
</g>
<g id="panel_e">
<text x="0.00" y="797.80" font-size="18" fill="#000" font-weight="bold" stroke="#000" stroke-width="0.35">e</text>
<rect x="43.20" y="813.00" width="329.40" height="323.30" fill="#fff" stroke="none" stroke-width="1" />
<g fill="#777777" fill-opacity="0.54"><circle cx="132.5" cy="1037.9" r="3.15"/><circle cx="134.5" cy="1028.4" r="3.15"/><circle cx="93.1" cy="1029.2" r="3.15"/><circle cx="182.6" cy="953.1" r="3.15"/><circle cx="79.3" cy="1083.4" r="3.15"/><circle cx="156.5" cy="964.7" r="3.15"/><circle cx="130.8" cy="1089.3" r="3.15"/><circle cx="160.1" cy="1027.0" r="3.15"/><circle cx="170.0" cy="993.4" r="3.15"/><circle cx="178.6" cy="1008.9" r="3.15"/><circle cx="183.2" cy="968.3" r="3.15"/><circle cx="110.7" cy="1097.0" r="3.15"/><circle cx="124.0" cy="1091.5" r="3.15"/><circle cx="179.6" cy="995.9" r="3.15"/><circle cx="151.7" cy="980.2" r="3.15"/><circle cx="120.6" cy="1018.5" r="3.15"/><circle cx="137.1" cy="1040.6" r="3.15"/><circle cx="154.7" cy="1012.7" r="3.15"/><circle cx="101.0" cy="1064.2" r="3.15"/><circle cx="99.6" cy="1037.8" r="3.15"/><circle cx="156.3" cy="987.0" r="3.15"/><circle cx="105.6" cy="1017.1" r="3.15"/><circle cx="119.2" cy="1098.2" r="3.15"/><circle cx="162.6" cy="1061.8" r="3.15"/><circle cx="136.9" cy="1069.0" r="3.15"/><circle cx="146.3" cy="1070.1" r="3.15"/><circle cx="127.3" cy="1079.9" r="3.15"/><circle cx="150.2" cy="1049.7" r="3.15"/><circle cx="151.7" cy="1046.8" r="3.15"/><circle cx="123.1" cy="1069.8" r="3.15"/><circle cx="154.4" cy="1023.5" r="3.15"/><circle cx="168.7" cy="1026.5" r="3.15"/><circle cx="201.3" cy="982.6" r="3.15"/><circle cx="110.3" cy="1059.4" r="3.15"/><circle cx="90.9" cy="1100.8" r="3.15"/><circle cx="131.0" cy="1098.3" r="3.15"/><circle cx="163.9" cy="972.1" r="3.15"/><circle cx="195.4" cy="1006.0" r="3.15"/><circle cx="139.0" cy="1088.4" r="3.15"/><circle cx="132.2" cy="986.1" r="3.15"/><circle cx="126.9" cy="1049.9" r="3.15"/><circle cx="112.4" cy="1088.7" r="3.15"/><circle cx="70.6" cy="1094.9" r="3.15"/><circle cx="170.2" cy="1039.8" r="3.15"/><circle cx="69.6" cy="1087.0" r="3.15"/><circle cx="158.5" cy="1017.3" r="3.15"/><circle cx="95.3" cy="1022.5" r="3.15"/><circle cx="171.0" cy="968.6" r="3.15"/><circle cx="116.8" cy="1062.9" r="3.15"/><circle cx="156.3" cy="1073.6" r="3.15"/><circle cx="121.4" cy="1039.5" r="3.15"/><circle cx="134.2" cy="1054.5" r="3.15"/><circle cx="160.3" cy="1066.6" r="3.15"/><circle cx="182.2" cy="994.3" r="3.15"/><circle cx="130.8" cy="1036.2" r="3.15"/><circle cx="181.8" cy="961.6" r="3.15"/><circle cx="141.9" cy="1067.7" r="3.15"/><circle cx="159.9" cy="1031.1" r="3.15"/><circle cx="148.3" cy="992.7" r="3.15"/><circle cx="96.6" cy="1090.8" r="3.15"/><circle cx="143.1" cy="1040.3" r="3.15"/><circle cx="144.8" cy="1027.6" r="3.15"/><circle cx="141.9" cy="1008.9" r="3.15"/><circle cx="148.7" cy="1025.4" r="3.15"/><circle cx="105.6" cy="1022.1" r="3.15"/><circle cx="129.8" cy="1084.5" r="3.15"/><circle cx="136.1" cy="993.7" r="3.15"/><circle cx="85.0" cy="1077.8" r="3.15"/><circle cx="167.0" cy="994.6" r="3.15"/><circle cx="173.4" cy="958.3" r="3.15"/><circle cx="144.0" cy="1015.5" r="3.15"/><circle cx="126.8" cy="1032.3" r="3.15"/><circle cx="96.0" cy="1050.9" r="3.15"/><circle cx="143.9" cy="1090.9" r="3.15"/><circle cx="191.9" cy="978.3" r="3.15"/><circle cx="196.5" cy="960.4" r="3.15"/><circle cx="172.8" cy="983.2" r="3.15"/><circle cx="188.3" cy="1012.7" r="3.15"/><circle cx="95.5" cy="1060.2" r="3.15"/><circle cx="177.4" cy="1027.5" r="3.15"/><circle cx="147.1" cy="1029.7" r="3.15"/><circle cx="96.0" cy="1088.9" r="3.15"/><circle cx="202.3" cy="953.3" r="3.15"/><circle cx="141.7" cy="1014.3" r="3.15"/><circle cx="190.1" cy="969.0" r="3.15"/><circle cx="174.7" cy="1009.8" r="3.15"/><circle cx="90.3" cy="1029.3" r="3.15"/><circle cx="158.5" cy="1009.6" r="3.15"/><circle cx="184.3" cy="983.0" r="3.15"/><circle cx="185.8" cy="1009.8" r="3.15"/><circle cx="125.6" cy="1067.5" r="3.15"/><circle cx="116.2" cy="1021.3" r="3.15"/><circle cx="118.3" cy="1052.2" r="3.15"/><circle cx="100.1" cy="1107.9" r="3.15"/><circle cx="115.7" cy="1056.1" r="3.15"/><circle cx="144.4" cy="1006.9" r="3.15"/><circle cx="160.4" cy="1063.6" r="3.15"/><circle cx="159.8" cy="1083.3" r="3.15"/><circle cx="202.7" cy="965.1" r="3.15"/><circle cx="90.9" cy="1026.2" r="3.15"/><circle cx="143.4" cy="1044.8" r="3.15"/><circle cx="108.0" cy="1055.2" r="3.15"/><circle cx="107.7" cy="1066.4" r="3.15"/><circle cx="176.9" cy="1007.0" r="3.15"/><circle cx="76.8" cy="1100.8" r="3.15"/><circle cx="101.8" cy="1031.3" r="3.15"/><circle cx="172.2" cy="1021.2" r="3.15"/><circle cx="82.9" cy="1049.6" r="3.15"/><circle cx="131.1" cy="1057.6" r="3.15"/><circle cx="104.5" cy="1042.0" r="3.15"/><circle cx="157.9" cy="1001.4" r="3.15"/><circle cx="159.1" cy="1073.1" r="3.15"/><circle cx="195.2" cy="943.2" r="3.15"/><circle cx="105.8" cy="1013.4" r="3.15"/><circle cx="81.1" cy="1034.6" r="3.15"/><circle cx="78.7" cy="1059.1" r="3.15"/><circle cx="158.8" cy="1003.9" r="3.15"/><circle cx="179.0" cy="974.8" r="3.15"/><circle cx="103.9" cy="1083.4" r="3.15"/><circle cx="113.8" cy="1035.8" r="3.15"/><circle cx="194.7" cy="950.3" r="3.15"/><circle cx="109.9" cy="1077.1" r="3.15"/><circle cx="97.3" cy="1056.5" r="3.15"/><circle cx="110.7" cy="1067.9" r="3.15"/><circle cx="118.6" cy="1068.1" r="3.15"/><circle cx="83.3" cy="1065.1" r="3.15"/><circle cx="184.0" cy="991.5" r="3.15"/><circle cx="119.7" cy="1002.1" r="3.15"/><circle cx="92.0" cy="1074.1" r="3.15"/><circle cx="141.8" cy="1035.0" r="3.15"/><circle cx="181.8" cy="951.3" r="3.15"/><circle cx="78.5" cy="1051.4" r="3.15"/><circle cx="175.6" cy="1054.1" r="3.15"/><circle cx="98.4" cy="1075.3" r="3.15"/><circle cx="138.6" cy="1033.8" r="3.15"/><circle cx="126.4" cy="1086.4" r="3.15"/><circle cx="143.0" cy="1065.2" r="3.15"/><circle cx="128.0" cy="1012.5" r="3.15"/><circle cx="82.9" cy="1053.9" r="3.15"/><circle cx="133.4" cy="1042.3" r="3.15"/><circle cx="100.6" cy="1066.5" r="3.15"/><circle cx="177.4" cy="992.7" r="3.15"/><circle cx="186.1" cy="1023.3" r="3.15"/><circle cx="116.3" cy="1035.6" r="3.15"/><circle cx="136.9" cy="976.2" r="3.15"/><circle cx="122.6" cy="1032.0" r="3.15"/><circle cx="162.7" cy="979.2" r="3.15"/><circle cx="135.5" cy="1003.6" r="3.15"/><circle cx="170.9" cy="1046.3" r="3.15"/><circle cx="104.1" cy="1094.2" r="3.15"/><circle cx="105.2" cy="1033.3" r="3.15"/><circle cx="186.8" cy="951.0" r="3.15"/><circle cx="152.2" cy="1092.0" r="3.15"/><circle cx="182.0" cy="1011.9" r="3.15"/><circle cx="79.4" cy="1086.4" r="3.15"/><circle cx="145.9" cy="1031.7" r="3.15"/><circle cx="188.3" cy="992.7" r="3.15"/><circle cx="134.7" cy="1066.2" r="3.15"/><circle cx="124.0" cy="1020.0" r="3.15"/><circle cx="170.4" cy="979.2" r="3.15"/><circle cx="96.4" cy="1048.1" r="3.15"/><circle cx="121.3" cy="1034.2" r="3.15"/><circle cx="115.6" cy="1007.4" r="3.15"/><circle cx="173.5" cy="996.0" r="3.15"/><circle cx="148.7" cy="1067.7" r="3.15"/><circle cx="187.6" cy="952.8" r="3.15"/><circle cx="141.2" cy="1053.8" r="3.15"/><circle cx="186.7" cy="1006.2" r="3.15"/><circle cx="124.9" cy="1063.4" r="3.15"/><circle cx="140.9" cy="1079.5" r="3.15"/><circle cx="117.8" cy="1027.1" r="3.15"/><circle cx="95.0" cy="1108.0" r="3.15"/><circle cx="102.0" cy="1040.9" r="3.15"/><circle cx="114.4" cy="1105.1" r="3.15"/><circle cx="145.9" cy="1038.1" r="3.15"/><circle cx="104.9" cy="1101.5" r="3.15"/><circle cx="84.0" cy="1086.1" r="3.15"/><circle cx="197.9" cy="979.8" r="3.15"/><circle cx="188.1" cy="969.8" r="3.15"/><circle cx="162.8" cy="992.0" r="3.15"/><circle cx="174.4" cy="1005.5" r="3.15"/><circle cx="142.4" cy="984.0" r="3.15"/><circle cx="114.8" cy="1052.8" r="3.15"/><circle cx="154.2" cy="1021.5" r="3.15"/><circle cx="157.7" cy="1061.5" r="3.15"/><circle cx="176.5" cy="1024.4" r="3.15"/><circle cx="126.1" cy="1015.0" r="3.15"/><circle cx="173.6" cy="1044.7" r="3.15"/><circle cx="110.8" cy="1044.0" r="3.15"/><circle cx="139.9" cy="1008.2" r="3.15"/><circle cx="168.2" cy="1031.8" r="3.15"/><circle cx="111.0" cy="1008.0" r="3.15"/><circle cx="127.9" cy="1082.6" r="3.15"/><circle cx="175.8" cy="1039.2" r="3.15"/><circle cx="80.5" cy="1080.2" r="3.15"/><circle cx="124.4" cy="1000.9" r="3.15"/><circle cx="198.1" cy="992.0" r="3.15"/><circle cx="195.4" cy="945.1" r="3.15"/><circle cx="172.7" cy="993.0" r="3.15"/><circle cx="85.8" cy="1062.7" r="3.15"/><circle cx="170.4" cy="971.8" r="3.15"/><circle cx="100.6" cy="1057.0" r="3.15"/><circle cx="120.8" cy="1056.5" r="3.15"/><circle cx="152.7" cy="977.7" r="3.15"/><circle cx="106.7" cy="1052.5" r="3.15"/><circle cx="143.7" cy="1032.6" r="3.15"/><circle cx="154.2" cy="987.8" r="3.15"/><circle cx="184.1" cy="951.9" r="3.15"/><circle cx="177.1" cy="980.8" r="3.15"/><circle cx="133.9" cy="1072.6" r="3.15"/><circle cx="92.4" cy="1037.2" r="3.15"/><circle cx="118.9" cy="1055.8" r="3.15"/><circle cx="142.0" cy="1028.0" r="3.15"/><circle cx="166.6" cy="1030.7" r="3.15"/><circle cx="91.6" cy="1077.9" r="3.15"/><circle cx="155.4" cy="978.8" r="3.15"/><circle cx="182.3" cy="978.9" r="3.15"/><circle cx="98.5" cy="1041.6" r="3.15"/><circle cx="129.9" cy="1016.4" r="3.15"/><circle cx="149.6" cy="1034.9" r="3.15"/><circle cx="112.2" cy="1049.1" r="3.15"/><circle cx="186.6" cy="967.2" r="3.15"/><circle cx="89.5" cy="1061.7" r="3.15"/><circle cx="138.0" cy="1074.6" r="3.15"/><circle cx="101.4" cy="1098.0" r="3.15"/><circle cx="123.8" cy="990.2" r="3.15"/><circle cx="173.9" cy="977.8" r="3.15"/><circle cx="147.1" cy="980.0" r="3.15"/><circle cx="134.0" cy="1007.5" r="3.15"/><circle cx="122.0" cy="1078.2" r="3.15"/><circle cx="134.8" cy="992.2" r="3.15"/><circle cx="192.8" cy="973.2" r="3.15"/><circle cx="76.7" cy="1061.8" r="3.15"/><circle cx="88.6" cy="1106.5" r="3.15"/><circle cx="199.3" cy="939.7" r="3.15"/><circle cx="111.9" cy="1013.2" r="3.15"/><circle cx="86.0" cy="1064.6" r="3.15"/><circle cx="172.6" cy="1057.2" r="3.15"/><circle cx="170.8" cy="1009.8" r="3.15"/><circle cx="193.3" cy="977.1" r="3.15"/><circle cx="158.7" cy="1039.0" r="3.15"/><circle cx="97.8" cy="1061.4" r="3.15"/><circle cx="100.5" cy="1051.1" r="3.15"/><circle cx="128.9" cy="1007.4" r="3.15"/><circle cx="122.4" cy="995.7" r="3.15"/><circle cx="125.2" cy="1022.5" r="3.15"/><circle cx="116.2" cy="1012.9" r="3.15"/><circle cx="151.6" cy="1063.6" r="3.15"/><circle cx="138.8" cy="1042.6" r="3.15"/><circle cx="104.5" cy="1057.6" r="3.15"/><circle cx="135.0" cy="1048.0" r="3.15"/><circle cx="119.3" cy="1040.9" r="3.15"/><circle cx="126.4" cy="1011.6" r="3.15"/><circle cx="122.1" cy="1101.5" r="3.15"/><circle cx="86.0" cy="1028.3" r="3.15"/><circle cx="119.0" cy="1113.8" r="3.15"/><circle cx="166.0" cy="978.7" r="3.15"/><circle cx="145.9" cy="1007.7" r="3.15"/><circle cx="138.6" cy="1054.3" r="3.15"/><circle cx="117.0" cy="1097.3" r="3.15"/><circle cx="89.4" cy="1049.1" r="3.15"/><circle cx="148.9" cy="1003.3" r="3.15"/><circle cx="176.1" cy="1033.2" r="3.15"/><circle cx="81.0" cy="1064.3" r="3.15"/><circle cx="132.4" cy="1076.5" r="3.15"/><circle cx="89.9" cy="1093.7" r="3.15"/><circle cx="171.2" cy="981.8" r="3.15"/><circle cx="149.4" cy="1012.5" r="3.15"/><circle cx="164.4" cy="978.0" r="3.15"/><circle cx="170.8" cy="957.5" r="3.15"/><circle cx="108.0" cy="1069.1" r="3.15"/><circle cx="123.2" cy="1062.3" r="3.15"/><circle cx="183.6" cy="962.7" r="3.15"/><circle cx="81.7" cy="1105.9" r="3.15"/><circle cx="157.9" cy="985.9" r="3.15"/><circle cx="136.9" cy="1002.6" r="3.15"/><circle cx="95.7" cy="1093.8" r="3.15"/><circle cx="143.5" cy="1083.4" r="3.15"/><circle cx="107.0" cy="1100.7" r="3.15"/><circle cx="175.0" cy="974.5" r="3.15"/><circle cx="146.3" cy="1059.8" r="3.15"/><circle cx="117.5" cy="1014.4" r="3.15"/><circle cx="96.1" cy="1096.2" r="3.15"/><circle cx="87.8" cy="1051.5" r="3.15"/><circle cx="160.6" cy="974.6" r="3.15"/><circle cx="158.4" cy="1027.9" r="3.15"/><circle cx="82.8" cy="1088.4" r="3.15"/><circle cx="154.3" cy="1040.2" r="3.15"/><circle cx="153.2" cy="1044.2" r="3.15"/><circle cx="174.5" cy="993.0" r="3.15"/><circle cx="193.5" cy="959.1" r="3.15"/><circle cx="144.8" cy="1093.5" r="3.15"/><circle cx="147.6" cy="1079.3" r="3.15"/><circle cx="101.5" cy="1081.6" r="3.15"/><circle cx="116.8" cy="1093.4" r="3.15"/><circle cx="173.0" cy="971.9" r="3.15"/><circle cx="106.9" cy="1045.8" r="3.15"/><circle cx="168.0" cy="1020.9" r="3.15"/><circle cx="174.2" cy="1001.6" r="3.15"/><circle cx="158.8" cy="1013.3" r="3.15"/><circle cx="126.1" cy="1019.1" r="3.15"/><circle cx="194.3" cy="988.1" r="3.15"/><circle cx="165.5" cy="1018.8" r="3.15"/><circle cx="127.6" cy="987.2" r="3.15"/><circle cx="168.2" cy="1058.3" r="3.15"/><circle cx="197.6" cy="981.8" r="3.15"/><circle cx="116.2" cy="1085.3" r="3.15"/><circle cx="152.8" cy="1035.4" r="3.15"/><circle cx="197.8" cy="952.1" r="3.15"/><circle cx="121.0" cy="1067.6" r="3.15"/><circle cx="116.5" cy="1099.4" r="3.15"/><circle cx="135.0" cy="1001.8" r="3.15"/><circle cx="112.5" cy="1058.1" r="3.15"/><circle cx="125.0" cy="1055.4" r="3.15"/><circle cx="90.5" cy="1054.1" r="3.15"/><circle cx="175.1" cy="982.1" r="3.15"/><circle cx="197.7" cy="940.4" r="3.15"/><circle cx="182.0" cy="990.9" r="3.15"/><circle cx="84.3" cy="1039.4" r="3.15"/><circle cx="180.3" cy="980.9" r="3.15"/><circle cx="191.1" cy="955.0" r="3.15"/><circle cx="125.7" cy="1047.4" r="3.15"/><circle cx="170.8" cy="964.5" r="3.15"/><circle cx="190.6" cy="944.4" r="3.15"/><circle cx="82.4" cy="1103.2" r="3.15"/><circle cx="110.0" cy="1070.6" r="3.15"/><circle cx="120.1" cy="1014.1" r="3.15"/><circle cx="73.3" cy="1088.1" r="3.15"/><circle cx="143.6" cy="1035.7" r="3.15"/><circle cx="120.7" cy="993.2" r="3.15"/><circle cx="99.9" cy="1072.4" r="3.15"/><circle cx="119.7" cy="1044.8" r="3.15"/><circle cx="110.3" cy="1046.9" r="3.15"/><circle cx="112.3" cy="1026.6" r="3.15"/><circle cx="105.7" cy="1080.8" r="3.15"/><circle cx="192.4" cy="1009.2" r="3.15"/><circle cx="74.3" cy="1075.0" r="3.15"/><circle cx="157.8" cy="1036.5" r="3.15"/><circle cx="174.3" cy="1012.1" r="3.15"/><circle cx="77.0" cy="1078.2" r="3.15"/><circle cx="176.5" cy="1004.8" r="3.15"/><circle cx="113.0" cy="1069.7" r="3.15"/><circle cx="201.6" cy="974.4" r="3.15"/><circle cx="144.8" cy="1088.7" r="3.15"/><circle cx="194.4" cy="1022.0" r="3.15"/><circle cx="129.5" cy="1004.7" r="3.15"/><circle cx="167.4" cy="1006.6" r="3.15"/><circle cx="81.5" cy="1071.1" r="3.15"/><circle cx="152.1" cy="972.8" r="3.15"/><circle cx="152.9" cy="1030.6" r="3.15"/><circle cx="150.4" cy="1089.3" r="3.15"/><circle cx="151.8" cy="1023.4" r="3.15"/><circle cx="114.2" cy="1062.9" r="3.15"/><circle cx="104.4" cy="1068.9" r="3.15"/><circle cx="129.6" cy="1048.4" r="3.15"/><circle cx="133.0" cy="1024.6" r="3.15"/><circle cx="176.7" cy="954.6" r="3.15"/><circle cx="144.6" cy="1047.0" r="3.15"/><circle cx="108.8" cy="1092.1" r="3.15"/><circle cx="137.3" cy="985.6" r="3.15"/><circle cx="106.8" cy="1028.7" r="3.15"/><circle cx="155.6" cy="1035.0" r="3.15"/><circle cx="144.6" cy="1056.1" r="3.15"/><circle cx="180.0" cy="983.3" r="3.15"/><circle cx="100.3" cy="1018.4" r="3.15"/><circle cx="140.3" cy="1039.0" r="3.15"/><circle cx="194.2" cy="947.2" r="3.15"/><circle cx="181.4" cy="1030.9" r="3.15"/><circle cx="169.6" cy="1011.9" r="3.15"/><circle cx="188.5" cy="1010.2" r="3.15"/><circle cx="143.3" cy="997.0" r="3.15"/><circle cx="103.3" cy="1023.2" r="3.15"/><circle cx="162.2" cy="983.4" r="3.15"/><circle cx="114.4" cy="1068.2" r="3.15"/><circle cx="182.2" cy="1034.3" r="3.15"/><circle cx="85.9" cy="1079.7" r="3.15"/><circle cx="115.7" cy="1079.9" r="3.15"/><circle cx="108.2" cy="1044.0" r="3.15"/><circle cx="136.0" cy="1084.9" r="3.15"/><circle cx="139.3" cy="1005.2" r="3.15"/><circle cx="200.4" cy="962.1" r="3.15"/><circle cx="132.7" cy="1003.8" r="3.15"/><circle cx="106.1" cy="1106.9" r="3.15"/><circle cx="178.1" cy="1031.9" r="3.15"/><circle cx="114.6" cy="1039.5" r="3.15"/><circle cx="133.6" cy="1045.8" r="3.15"/><circle cx="91.4" cy="1070.0" r="3.15"/><circle cx="183.5" cy="1026.9" r="3.15"/><circle cx="157.0" cy="1003.2" r="3.15"/><circle cx="157.7" cy="993.7" r="3.15"/><circle cx="127.3" cy="1034.3" r="3.15"/><circle cx="114.9" cy="1102.3" r="3.15"/><circle cx="195.7" cy="965.6" r="3.15"/><circle cx="91.1" cy="1067.7" r="3.15"/><circle cx="205.3" cy="987.7" r="3.15"/><circle cx="167.0" cy="999.2" r="3.15"/><circle cx="141.6" cy="1005.0" r="3.15"/><circle cx="139.0" cy="985.0" r="3.15"/><circle cx="158.9" cy="1020.1" r="3.15"/><circle cx="139.1" cy="1023.7" r="3.15"/><circle cx="140.1" cy="1013.6" r="3.15"/><circle cx="136.9" cy="988.9" r="3.15"/><circle cx="139.9" cy="998.3" r="3.15"/><circle cx="97.6" cy="1087.8" r="3.15"/><circle cx="89.7" cy="1080.8" r="3.15"/><circle cx="141.8" cy="993.5" r="3.15"/><circle cx="93.5" cy="1053.9" r="3.15"/><circle cx="142.8" cy="1024.8" r="3.15"/><circle cx="135.5" cy="1071.5" r="3.15"/><circle cx="95.3" cy="1041.7" r="3.15"/><circle cx="160.0" cy="1011.4" r="3.15"/><circle cx="93.8" cy="1075.4" r="3.15"/><circle cx="88.1" cy="1036.3" r="3.15"/><circle cx="133.1" cy="1014.7" r="3.15"/><circle cx="105.6" cy="1062.4" r="3.15"/><circle cx="150.3" cy="1071.5" r="3.15"/><circle cx="161.5" cy="1060.0" r="3.15"/><circle cx="72.8" cy="1065.3" r="3.15"/><circle cx="210.6" cy="957.8" r="3.15"/><circle cx="98.5" cy="1093.6" r="3.15"/><circle cx="126.3" cy="1008.6" r="3.15"/><circle cx="103.8" cy="1080.0" r="3.15"/><circle cx="132.6" cy="993.4" r="3.15"/><circle cx="132.9" cy="1022.2" r="3.15"/><circle cx="125.0" cy="1058.2" r="3.15"/><circle cx="162.4" cy="1057.7" r="3.15"/><circle cx="162.1" cy="977.1" r="3.15"/><circle cx="116.2" cy="1065.5" r="3.15"/><circle cx="127.2" cy="1075.5" r="3.15"/><circle cx="156.2" cy="976.2" r="3.15"/><circle cx="200.2" cy="946.9" r="3.15"/><circle cx="123.5" cy="1043.4" r="3.15"/><circle cx="106.3" cy="1039.2" r="3.15"/><circle cx="163.5" cy="988.6" r="3.15"/><circle cx="155.1" cy="1019.8" r="3.15"/><circle cx="111.7" cy="1094.8" r="3.15"/><circle cx="104.9" cy="1025.0" r="3.15"/><circle cx="97.1" cy="1064.0" r="3.15"/><circle cx="115.5" cy="1095.9" r="3.15"/><circle cx="98.7" cy="1048.8" r="3.15"/><circle cx="130.7" cy="1014.5" r="3.15"/><circle cx="169.8" cy="975.3" r="3.15"/><circle cx="69.1" cy="1062.8" r="3.15"/><circle cx="113.4" cy="1021.1" r="3.15"/><circle cx="148.5" cy="1000.8" r="3.15"/><circle cx="123.3" cy="1027.8" r="3.15"/><circle cx="197.2" cy="976.8" r="3.15"/><circle cx="123.3" cy="1052.4" r="3.15"/><circle cx="130.0" cy="1074.7" r="3.15"/><circle cx="115.5" cy="1041.2" r="3.15"/><circle cx="162.5" cy="975.0" r="3.15"/><circle cx="178.0" cy="996.8" r="3.15"/><circle cx="159.6" cy="983.7" r="3.15"/><circle cx="122.3" cy="1085.9" r="3.15"/><circle cx="208.3" cy="979.7" r="3.15"/><circle cx="158.3" cy="1005.7" r="3.15"/><circle cx="92.5" cy="1027.0" r="3.15"/><circle cx="178.6" cy="1038.8" r="3.15"/><circle cx="93.9" cy="1067.9" r="3.15"/><circle cx="193.1" cy="942.1" r="3.15"/><circle cx="134.8" cy="1089.6" r="3.15"/><circle cx="187.3" cy="962.9" r="3.15"/><circle cx="200.7" cy="942.8" r="3.15"/><circle cx="160.1" cy="966.6" r="3.15"/><circle cx="144.7" cy="1004.3" r="3.15"/><circle cx="149.5" cy="1028.4" r="3.15"/><circle cx="156.4" cy="971.2" r="3.15"/><circle cx="152.4" cy="1007.4" r="3.15"/><circle cx="204.2" cy="960.0" r="3.15"/><circle cx="170.1" cy="1003.7" r="3.15"/><circle cx="109.0" cy="1072.5" r="3.15"/><circle cx="207.2" cy="962.2" r="3.15"/><circle cx="168.0" cy="970.5" r="3.15"/><circle cx="95.2" cy="1037.3" r="3.15"/><circle cx="112.7" cy="1008.3" r="3.15"/><circle cx="175.0" cy="1020.3" r="3.15"/><circle cx="88.3" cy="1078.5" r="3.15"/><circle cx="146.5" cy="1091.8" r="3.15"/><circle cx="154.7" cy="1086.0" r="3.15"/><circle cx="83.7" cy="1058.2" r="3.15"/><circle cx="104.7" cy="1045.5" r="3.15"/><circle cx="85.3" cy="1046.5" r="3.15"/><circle cx="108.6" cy="1018.9" r="3.15"/><circle cx="184.2" cy="1007.8" r="3.15"/><circle cx="137.1" cy="1008.4" r="3.15"/><circle cx="154.5" cy="1075.0" r="3.15"/><circle cx="75.5" cy="1058.9" r="3.15"/><circle cx="131.5" cy="1046.1" r="3.15"/><circle cx="203.5" cy="997.0" r="3.15"/><circle cx="180.7" cy="955.9" r="3.15"/><circle cx="161.8" cy="1021.6" r="3.15"/><circle cx="182.2" cy="973.6" r="3.15"/><circle cx="193.1" cy="981.3" r="3.15"/><circle cx="156.2" cy="1076.1" r="3.15"/><circle cx="126.4" cy="1002.6" r="3.15"/><circle cx="190.0" cy="1006.3" r="3.15"/><circle cx="110.5" cy="1004.9" r="3.15"/><circle cx="177.6" cy="977.1" r="3.15"/><circle cx="117.9" cy="1022.2" r="3.15"/><circle cx="108.7" cy="1013.3" r="3.15"/><circle cx="77.4" cy="1080.2" r="3.15"/><circle cx="154.0" cy="994.1" r="3.15"/><circle cx="127.9" cy="1000.4" r="3.15"/><circle cx="89.2" cy="1032.5" r="3.15"/><circle cx="149.8" cy="1079.6" r="3.15"/><circle cx="130.5" cy="1020.7" r="3.15"/><circle cx="107.1" cy="1077.7" r="3.15"/><circle cx="79.7" cy="1096.9" r="3.15"/><circle cx="105.3" cy="1075.9" r="3.15"/><circle cx="164.0" cy="1011.2" r="3.15"/><circle cx="95.9" cy="1020.2" r="3.15"/><circle cx="144.3" cy="1041.9" r="3.15"/><circle cx="203.8" cy="974.0" r="3.15"/><circle cx="170.6" cy="995.4" r="3.15"/><circle cx="152.8" cy="1088.7" r="3.15"/><circle cx="68.2" cy="1075.3" r="3.15"/><circle cx="112.4" cy="1075.9" r="3.15"/><circle cx="110.5" cy="1018.2" r="3.15"/><circle cx="135.3" cy="1080.4" r="3.15"/><circle cx="95.5" cy="1082.4" r="3.15"/><circle cx="125.0" cy="936.3" r="3.15"/><circle cx="140.6" cy="946.1" r="3.15"/><circle cx="116.1" cy="952.9" r="3.15"/><circle cx="153.7" cy="952.8" r="3.15"/><circle cx="160.4" cy="952.8" r="3.15"/><circle cx="66.3" cy="968.4" r="3.15"/><circle cx="115.7" cy="968.5" r="3.15"/><circle cx="98.2" cy="971.9" r="3.15"/><circle cx="103.1" cy="980.1" r="3.15"/><circle cx="81.5" cy="989.7" r="3.15"/><circle cx="61.9" cy="998.3" r="3.15"/><circle cx="88.9" cy="1002.0" r="3.15"/><circle cx="79.3" cy="1005.0" r="3.15"/><circle cx="70.2" cy="1011.5" r="3.15"/><circle cx="80.1" cy="1016.7" r="3.15"/><circle cx="65.2" cy="1031.6" r="3.15"/><circle cx="118.7" cy="992.4" r="3.15"/><circle cx="132.0" cy="989.7" r="3.15"/><circle cx="114.5" cy="1001.5" r="3.15"/><circle cx="142.2" cy="988.8" r="3.15"/><circle cx="65.9" cy="1041.2" r="3.15"/><circle cx="61.9" cy="1072.9" r="3.15"/><circle cx="62.6" cy="1087.1" r="3.15"/><circle cx="64.9" cy="1089.7" r="3.15"/><circle cx="68.9" cy="1115.5" r="3.15"/><circle cx="93.8" cy="1121.8" r="3.15"/><circle cx="108.3" cy="1117.4" r="3.15"/><circle cx="117.1" cy="1116.4" r="3.15"/><circle cx="149.3" cy="1101.1" r="3.15"/><circle cx="161.4" cy="1096.0" r="3.15"/><circle cx="140.6" cy="1107.6" r="3.15"/><circle cx="157.8" cy="1070.3" r="3.15"/><circle cx="153.4" cy="1073.4" r="3.15"/><circle cx="149.9" cy="1077.3" r="3.15"/><circle cx="149.0" cy="1081.7" r="3.15"/><circle cx="256.0" cy="961.5" r="3.15"/><circle cx="240.2" cy="964.8" r="3.15"/><circle cx="235.8" cy="966.4" r="3.15"/><circle cx="236.4" cy="976.6" r="3.15"/><circle cx="223.1" cy="961.5" r="3.15"/><circle cx="221.8" cy="975.5" r="3.15"/><circle cx="215.7" cy="975.5" r="3.15"/><circle cx="214.8" cy="967.3" r="3.15"/><circle cx="211.7" cy="961.5" r="3.15"/><circle cx="216.9" cy="995.0" r="3.15"/><circle cx="234.1" cy="948.6" r="3.15"/><circle cx="232.3" cy="953.3" r="3.15"/><circle cx="231.1" cy="942.2" r="3.15"/><circle cx="229.2" cy="937.0" r="3.15"/><circle cx="247.2" cy="931.7" r="3.15"/><circle cx="249.0" cy="925.8" r="3.15"/><circle cx="255.1" cy="921.4" r="3.15"/><circle cx="236.2" cy="926.7" r="3.15"/><circle cx="220.6" cy="923.2" r="3.15"/><circle cx="230.6" cy="923.5" r="3.15"/><circle cx="221.0" cy="932.3" r="3.15"/><circle cx="206.9" cy="936.3" r="3.15"/><circle cx="205.2" cy="940.1" r="3.15"/><circle cx="212.5" cy="942.8" r="3.15"/><circle cx="211.0" cy="947.2" r="3.15"/><circle cx="203.8" cy="946.3" r="3.15"/><circle cx="175.1" cy="930.0" r="3.15"/><circle cx="176.3" cy="932.3" r="3.15"/><circle cx="181.2" cy="934.4" r="3.15"/><circle cx="187.1" cy="933.5" r="3.15"/><circle cx="188.2" cy="948.0" r="3.15"/><circle cx="178.0" cy="951.5" r="3.15"/><circle cx="193.3" cy="1036.2" r="3.15"/><circle cx="202.6" cy="1011.1" r="3.15"/><circle cx="205.2" cy="1012.0" r="3.15"/><circle cx="199.6" cy="1000.2" r="3.15"/><circle cx="200.8" cy="1006.7" r="3.15"/><circle cx="192.9" cy="1000.1" r="3.15"/><circle cx="194.7" cy="994.5" r="3.15"/><circle cx="202.6" cy="986.2" r="3.15"/><circle cx="201.3" cy="990.1" r="3.15"/><circle cx="174.0" cy="1042.4" r="3.15"/><circle cx="176.3" cy="1037.0" r="3.15"/><circle cx="172.8" cy="1036.1" r="3.15"/><circle cx="181.5" cy="1057.1" r="3.15"/><circle cx="181.0" cy="1060.6" r="3.15"/><circle cx="176.8" cy="1062.0" r="3.15"/><circle cx="168.7" cy="1067.3" r="3.15"/><circle cx="169.6" cy="1075.7" r="3.15"/><circle cx="166.6" cy="1057.1" r="3.15"/><circle cx="165.4" cy="1052.4" r="3.15"/><circle cx="165.8" cy="1037.5" r="3.15"/><circle cx="160.5" cy="1042.8" r="3.15"/><circle cx="157.9" cy="1048.9" r="3.15"/><circle cx="158.8" cy="1054.2" r="3.15"/><circle cx="156.1" cy="1056.8" r="3.15"/><circle cx="152.6" cy="1062.0" r="3.15"/><circle cx="357.6" cy="838.0" r="3.15"/><circle cx="347.7" cy="855.4" r="3.15"/><circle cx="322.9" cy="852.8" r="3.15"/><circle cx="294.5" cy="868.9" r="3.15"/><circle cx="279.7" cy="879.6" r="3.15"/><circle cx="248.5" cy="886.8" r="3.15"/><circle cx="331.8" cy="884.7" r="3.15"/><circle cx="312.4" cy="882.2" r="3.15"/><circle cx="297.9" cy="892.4" r="3.15"/><circle cx="281.8" cy="913.4" r="3.15"/><circle cx="281.2" cy="903.1" r="3.15"/><circle cx="260.0" cy="902.6" r="3.15"/><circle cx="261.3" cy="907.5" r="3.15"/><circle cx="254.2" cy="910.0" r="3.15"/><circle cx="242.2" cy="914.6" r="3.15"/><circle cx="230.7" cy="918.0" r="3.15"/><circle cx="238.3" cy="919.8" r="3.15"/><circle cx="240.9" cy="924.9" r="3.15"/><circle cx="214.8" cy="930.0" r="3.15"/><circle cx="223.0" cy="931.2" r="3.15"/><circle cx="219.2" cy="933.8" r="3.15"/><circle cx="230.1" cy="933.0" r="3.15"/><circle cx="228.1" cy="938.9" r="3.15"/><circle cx="211.5" cy="941.5" r="3.15"/><circle cx="184.7" cy="867.2" r="3.15"/></g>
<circle cx="208.60" cy="906.30" r="3.20" fill="#e8262a" stroke="none" stroke-width="1" />
<text x="211.10" y="903.30" font-size="6.3" fill="#ee4c50" font-style="italic" textLength="19.67" lengthAdjust="spacingAndGlyphs">MIR17</text>
<circle cx="237.80" cy="893.40" r="3.20" fill="#e8262a" stroke="none" stroke-width="1" />
<text x="205.80" y="890.20" font-size="6.3" fill="#ee4c50" font-style="italic" textLength="27.84" lengthAdjust="spacingAndGlyphs">MIR320A</text>
<circle cx="253.30" cy="885.30" r="3.20" fill="#e8262a" stroke="none" stroke-width="1" />
<text x="248.30" y="880.30" font-size="6.3" fill="#ee4c50" font-style="italic" textLength="23.38" lengthAdjust="spacingAndGlyphs">MIR222</text>
<circle cx="164.40" cy="944.00" r="3.20" fill="#e8262a" stroke="none" stroke-width="1" />
<text x="166.90" y="941.40" font-size="6.3" fill="#ee4c50" font-style="italic" textLength="23.38" lengthAdjust="spacingAndGlyphs">MIR221</text>
<circle cx="125.90" cy="981.70" r="3.20" fill="#e8262a" stroke="none" stroke-width="1" />
<text x="106.90" y="977.20" font-size="6.3" fill="#ee4c50" font-style="italic" textLength="24.12" lengthAdjust="spacingAndGlyphs">MIR34A</text>
<circle cx="144.30" cy="977.60" r="3.20" fill="#e8262a" stroke="none" stroke-width="1" />
<text x="146.90" y="975.10" font-size="6.3" fill="#ee4c50" font-style="italic" textLength="24.12" lengthAdjust="spacingAndGlyphs">MIR23A</text>
<circle cx="170.70" cy="981.70" r="3.20" fill="#e8262a" stroke="none" stroke-width="1" />
<text x="174.70" y="982.50" font-size="6.3" fill="#ee4c50" font-style="italic" textLength="24.12" lengthAdjust="spacingAndGlyphs">MIR27A</text>
<circle cx="120.60" cy="1036.90" r="3.20" fill="#e8262a" stroke="none" stroke-width="1" />
<text x="124.10" y="1034.10" font-size="6.3" fill="#ee4c50" font-style="italic" textLength="25.61" lengthAdjust="spacingAndGlyphs">MIR24-2</text>
<circle cx="271.40" cy="921.20" r="3.20" fill="#3f4fa8" stroke="none" stroke-width="1" />
<text x="273.90" y="918.60" font-size="6.3" fill="#6272c0" font-style="italic" textLength="21.90" lengthAdjust="spacingAndGlyphs">EPHA2</text>
<circle cx="275.20" cy="905.10" r="3.20" fill="#3f4fa8" stroke="none" stroke-width="1" />
<text x="279.00" y="909.40" font-size="6.3" fill="#6272c0" font-style="italic" textLength="26.72" lengthAdjust="spacingAndGlyphs">SNAPC2</text>
<circle cx="287.70" cy="898.40" r="3.20" fill="#3f4fa8" stroke="none" stroke-width="1" />
<text x="291.70" y="900.40" font-size="6.3" fill="#6272c0" font-style="italic" textLength="18.55" lengthAdjust="spacingAndGlyphs">EGFR</text>
<circle cx="302.90" cy="890.80" r="3.20" fill="#3f4fa8" stroke="none" stroke-width="1" />
<text x="285.90" y="886.80" font-size="6.3" fill="#6272c0" font-style="italic" textLength="20.41" lengthAdjust="spacingAndGlyphs">MOGS</text>
<circle cx="312.30" cy="888.80" r="3.20" fill="#3f4fa8" stroke="none" stroke-width="1" />
<text x="317.30" y="891.00" font-size="6.3" fill="#6272c0" font-style="italic" textLength="15.96" lengthAdjust="spacingAndGlyphs">KLF6</text>
<circle cx="316.40" cy="880.60" r="3.20" fill="#3f4fa8" stroke="none" stroke-width="1" />
<text x="320.40" y="881.20" font-size="6.3" fill="#6272c0" font-style="italic" textLength="16.34" lengthAdjust="spacingAndGlyphs">ELK1</text>
<circle cx="316.10" cy="871.20" r="3.20" fill="#3f4fa8" stroke="none" stroke-width="1" />
<text x="320.10" y="873.40" font-size="6.3" fill="#6272c0" font-style="italic" textLength="22.64" lengthAdjust="spacingAndGlyphs">MAPK3</text>
<circle cx="319.00" cy="863.90" r="3.20" fill="#3f4fa8" stroke="none" stroke-width="1" />
<text x="307.50" y="860.30" font-size="6.3" fill="#6272c0" font-style="italic" textLength="12.62" lengthAdjust="spacingAndGlyphs">SP1</text>
<circle cx="328.90" cy="860.70" r="3.20" fill="#3f4fa8" stroke="none" stroke-width="1" />
<text x="332.90" y="862.90" font-size="6.3" fill="#6272c0" font-style="italic" textLength="22.27" lengthAdjust="spacingAndGlyphs">CREB1</text>
<circle cx="338.50" cy="849.30" r="3.20" fill="#3f4fa8" stroke="none" stroke-width="1" />
<text x="343.00" y="847.50" font-size="6.3" fill="#6272c0" font-style="italic" textLength="17.81" lengthAdjust="spacingAndGlyphs">TPM1</text>
<line x1="43.20" y1="1125.20" x2="358.40" y2="827.90" stroke="#c4c4c4" stroke-width="1.0" stroke-dasharray="4 2.6"/>
<rect x="43.20" y="813.00" width="329.40" height="323.30" fill="none" stroke="#333333" stroke-width="0.8" />
<line x1="70.05" y1="1136.30" x2="70.05" y2="1139.30" stroke="#333333" stroke-width="0.7" />
<line x1="40.20" y1="1099.80" x2="43.20" y2="1099.80" stroke="#333333" stroke-width="0.7" />
<text x="70.95" y="1151.30" font-size="9" text-anchor="middle"><tspan>10</tspan><tspan font-size="6.3" dy="-3.6">−3</tspan></text>
<text x="37.30" y="1103.40" font-size="9" text-anchor="end"><tspan>10</tspan><tspan font-size="6.3" dy="-3.6">−3</tspan></text>
<line x1="125.50" y1="1136.30" x2="125.50" y2="1139.30" stroke="#333333" stroke-width="0.7" />
<line x1="40.20" y1="1047.50" x2="43.20" y2="1047.50" stroke="#333333" stroke-width="0.7" />
<text x="126.40" y="1151.30" font-size="9" text-anchor="middle"><tspan>10</tspan><tspan font-size="6.3" dy="-3.6">−2</tspan></text>
<text x="37.30" y="1051.10" font-size="9" text-anchor="end"><tspan>10</tspan><tspan font-size="6.3" dy="-3.6">−2</tspan></text>
<line x1="180.95" y1="1136.30" x2="180.95" y2="1139.30" stroke="#333333" stroke-width="0.7" />
<line x1="40.20" y1="995.20" x2="43.20" y2="995.20" stroke="#333333" stroke-width="0.7" />
<text x="181.85" y="1151.30" font-size="9" text-anchor="middle"><tspan>10</tspan><tspan font-size="6.3" dy="-3.6">−1</tspan></text>
<text x="37.30" y="998.80" font-size="9" text-anchor="end"><tspan>10</tspan><tspan font-size="6.3" dy="-3.6">−1</tspan></text>
<line x1="236.40" y1="1136.30" x2="236.40" y2="1139.30" stroke="#333333" stroke-width="0.7" />
<line x1="40.20" y1="942.90" x2="43.20" y2="942.90" stroke="#333333" stroke-width="0.7" />
<text x="237.30" y="1151.30" font-size="9" text-anchor="middle"><tspan>10</tspan><tspan font-size="6.3" dy="-3.6">0</tspan></text>
<text x="37.30" y="946.50" font-size="9" text-anchor="end"><tspan>10</tspan><tspan font-size="6.3" dy="-3.6">0</tspan></text>
<line x1="291.85" y1="1136.30" x2="291.85" y2="1139.30" stroke="#333333" stroke-width="0.7" />
<line x1="40.20" y1="890.60" x2="43.20" y2="890.60" stroke="#333333" stroke-width="0.7" />
<text x="292.75" y="1151.30" font-size="9" text-anchor="middle"><tspan>10</tspan><tspan font-size="6.3" dy="-3.6">1</tspan></text>
<text x="37.30" y="894.20" font-size="9" text-anchor="end"><tspan>10</tspan><tspan font-size="6.3" dy="-3.6">1</tspan></text>
<line x1="347.30" y1="1136.30" x2="347.30" y2="1139.30" stroke="#333333" stroke-width="0.7" />
<line x1="40.20" y1="838.30" x2="43.20" y2="838.30" stroke="#333333" stroke-width="0.7" />
<text x="348.20" y="1151.30" font-size="9" text-anchor="middle"><tspan>10</tspan><tspan font-size="6.3" dy="-3.6">2</tspan></text>
<text x="37.30" y="841.90" font-size="9" text-anchor="end"><tspan>10</tspan><tspan font-size="6.3" dy="-3.6">2</tspan></text>
<line x1="41.40" y1="1127.15" x2="43.20" y2="1127.15" stroke="#333333" stroke-width="0.5" />
<line x1="47.98" y1="1136.30" x2="47.98" y2="1138.10" stroke="#333333" stroke-width="0.5" />
<line x1="41.40" y1="1120.61" x2="43.20" y2="1120.61" stroke="#333333" stroke-width="0.5" />
<line x1="53.36" y1="1136.30" x2="53.36" y2="1138.10" stroke="#333333" stroke-width="0.5" />
<line x1="41.40" y1="1115.54" x2="43.20" y2="1115.54" stroke="#333333" stroke-width="0.5" />
<line x1="57.75" y1="1136.30" x2="57.75" y2="1138.10" stroke="#333333" stroke-width="0.5" />
<line x1="41.40" y1="1111.40" x2="43.20" y2="1111.40" stroke="#333333" stroke-width="0.5" />
<line x1="61.46" y1="1136.30" x2="61.46" y2="1138.10" stroke="#333333" stroke-width="0.5" />
<line x1="41.40" y1="1107.90" x2="43.20" y2="1107.90" stroke="#333333" stroke-width="0.5" />
<line x1="64.68" y1="1136.30" x2="64.68" y2="1138.10" stroke="#333333" stroke-width="0.5" />
<line x1="41.40" y1="1104.87" x2="43.20" y2="1104.87" stroke="#333333" stroke-width="0.5" />
<line x1="67.51" y1="1136.30" x2="67.51" y2="1138.10" stroke="#333333" stroke-width="0.5" />
<line x1="41.40" y1="1102.19" x2="43.20" y2="1102.19" stroke="#333333" stroke-width="0.5" />
<line x1="86.74" y1="1136.30" x2="86.74" y2="1138.10" stroke="#333333" stroke-width="0.5" />
<line x1="41.40" y1="1084.06" x2="43.20" y2="1084.06" stroke="#333333" stroke-width="0.5" />
<line x1="96.51" y1="1136.30" x2="96.51" y2="1138.10" stroke="#333333" stroke-width="0.5" />
<line x1="41.40" y1="1074.85" x2="43.20" y2="1074.85" stroke="#333333" stroke-width="0.5" />
<line x1="103.43" y1="1136.30" x2="103.43" y2="1138.10" stroke="#333333" stroke-width="0.5" />
<line x1="41.40" y1="1068.31" x2="43.20" y2="1068.31" stroke="#333333" stroke-width="0.5" />
<line x1="108.81" y1="1136.30" x2="108.81" y2="1138.10" stroke="#333333" stroke-width="0.5" />
<line x1="41.40" y1="1063.24" x2="43.20" y2="1063.24" stroke="#333333" stroke-width="0.5" />
<line x1="113.20" y1="1136.30" x2="113.20" y2="1138.10" stroke="#333333" stroke-width="0.5" />
<line x1="41.40" y1="1059.10" x2="43.20" y2="1059.10" stroke="#333333" stroke-width="0.5" />
<line x1="116.91" y1="1136.30" x2="116.91" y2="1138.10" stroke="#333333" stroke-width="0.5" />
<line x1="41.40" y1="1055.60" x2="43.20" y2="1055.60" stroke="#333333" stroke-width="0.5" />
<line x1="120.13" y1="1136.30" x2="120.13" y2="1138.10" stroke="#333333" stroke-width="0.5" />
<line x1="41.40" y1="1052.57" x2="43.20" y2="1052.57" stroke="#333333" stroke-width="0.5" />
<line x1="122.96" y1="1136.30" x2="122.96" y2="1138.10" stroke="#333333" stroke-width="0.5" />
<line x1="41.40" y1="1049.89" x2="43.20" y2="1049.89" stroke="#333333" stroke-width="0.5" />
<line x1="142.19" y1="1136.30" x2="142.19" y2="1138.10" stroke="#333333" stroke-width="0.5" />
<line x1="41.40" y1="1031.76" x2="43.20" y2="1031.76" stroke="#333333" stroke-width="0.5" />
<line x1="151.96" y1="1136.30" x2="151.96" y2="1138.10" stroke="#333333" stroke-width="0.5" />
<line x1="41.40" y1="1022.55" x2="43.20" y2="1022.55" stroke="#333333" stroke-width="0.5" />
<line x1="158.88" y1="1136.30" x2="158.88" y2="1138.10" stroke="#333333" stroke-width="0.5" />
<line x1="41.40" y1="1016.01" x2="43.20" y2="1016.01" stroke="#333333" stroke-width="0.5" />
<line x1="164.26" y1="1136.30" x2="164.26" y2="1138.10" stroke="#333333" stroke-width="0.5" />
<line x1="41.40" y1="1010.94" x2="43.20" y2="1010.94" stroke="#333333" stroke-width="0.5" />
<line x1="168.65" y1="1136.30" x2="168.65" y2="1138.10" stroke="#333333" stroke-width="0.5" />
<line x1="41.40" y1="1006.80" x2="43.20" y2="1006.80" stroke="#333333" stroke-width="0.5" />
<line x1="172.36" y1="1136.30" x2="172.36" y2="1138.10" stroke="#333333" stroke-width="0.5" />
<line x1="41.40" y1="1003.30" x2="43.20" y2="1003.30" stroke="#333333" stroke-width="0.5" />
<line x1="175.58" y1="1136.30" x2="175.58" y2="1138.10" stroke="#333333" stroke-width="0.5" />
<line x1="41.40" y1="1000.27" x2="43.20" y2="1000.27" stroke="#333333" stroke-width="0.5" />
<line x1="178.41" y1="1136.30" x2="178.41" y2="1138.10" stroke="#333333" stroke-width="0.5" />
<line x1="41.40" y1="997.59" x2="43.20" y2="997.59" stroke="#333333" stroke-width="0.5" />
<line x1="197.64" y1="1136.30" x2="197.64" y2="1138.10" stroke="#333333" stroke-width="0.5" />
<line x1="41.40" y1="979.46" x2="43.20" y2="979.46" stroke="#333333" stroke-width="0.5" />
<line x1="207.41" y1="1136.30" x2="207.41" y2="1138.10" stroke="#333333" stroke-width="0.5" />
<line x1="41.40" y1="970.25" x2="43.20" y2="970.25" stroke="#333333" stroke-width="0.5" />
<line x1="214.33" y1="1136.30" x2="214.33" y2="1138.10" stroke="#333333" stroke-width="0.5" />
<line x1="41.40" y1="963.71" x2="43.20" y2="963.71" stroke="#333333" stroke-width="0.5" />
<line x1="219.71" y1="1136.30" x2="219.71" y2="1138.10" stroke="#333333" stroke-width="0.5" />
<line x1="41.40" y1="958.64" x2="43.20" y2="958.64" stroke="#333333" stroke-width="0.5" />
<line x1="224.10" y1="1136.30" x2="224.10" y2="1138.10" stroke="#333333" stroke-width="0.5" />
<line x1="41.40" y1="954.50" x2="43.20" y2="954.50" stroke="#333333" stroke-width="0.5" />
<line x1="227.81" y1="1136.30" x2="227.81" y2="1138.10" stroke="#333333" stroke-width="0.5" />
<line x1="41.40" y1="951.00" x2="43.20" y2="951.00" stroke="#333333" stroke-width="0.5" />
<line x1="231.03" y1="1136.30" x2="231.03" y2="1138.10" stroke="#333333" stroke-width="0.5" />
<line x1="41.40" y1="947.97" x2="43.20" y2="947.97" stroke="#333333" stroke-width="0.5" />
<line x1="233.86" y1="1136.30" x2="233.86" y2="1138.10" stroke="#333333" stroke-width="0.5" />
<line x1="41.40" y1="945.29" x2="43.20" y2="945.29" stroke="#333333" stroke-width="0.5" />
<line x1="253.09" y1="1136.30" x2="253.09" y2="1138.10" stroke="#333333" stroke-width="0.5" />
<line x1="41.40" y1="927.16" x2="43.20" y2="927.16" stroke="#333333" stroke-width="0.5" />
<line x1="262.86" y1="1136.30" x2="262.86" y2="1138.10" stroke="#333333" stroke-width="0.5" />
<line x1="41.40" y1="917.95" x2="43.20" y2="917.95" stroke="#333333" stroke-width="0.5" />
<line x1="269.78" y1="1136.30" x2="269.78" y2="1138.10" stroke="#333333" stroke-width="0.5" />
<line x1="41.40" y1="911.41" x2="43.20" y2="911.41" stroke="#333333" stroke-width="0.5" />
<line x1="275.16" y1="1136.30" x2="275.16" y2="1138.10" stroke="#333333" stroke-width="0.5" />
<line x1="41.40" y1="906.34" x2="43.20" y2="906.34" stroke="#333333" stroke-width="0.5" />
<line x1="279.55" y1="1136.30" x2="279.55" y2="1138.10" stroke="#333333" stroke-width="0.5" />
<line x1="41.40" y1="902.20" x2="43.20" y2="902.20" stroke="#333333" stroke-width="0.5" />
<line x1="283.26" y1="1136.30" x2="283.26" y2="1138.10" stroke="#333333" stroke-width="0.5" />
<line x1="41.40" y1="898.70" x2="43.20" y2="898.70" stroke="#333333" stroke-width="0.5" />
<line x1="286.48" y1="1136.30" x2="286.48" y2="1138.10" stroke="#333333" stroke-width="0.5" />
<line x1="41.40" y1="895.67" x2="43.20" y2="895.67" stroke="#333333" stroke-width="0.5" />
<line x1="289.31" y1="1136.30" x2="289.31" y2="1138.10" stroke="#333333" stroke-width="0.5" />
<line x1="41.40" y1="892.99" x2="43.20" y2="892.99" stroke="#333333" stroke-width="0.5" />
<line x1="308.54" y1="1136.30" x2="308.54" y2="1138.10" stroke="#333333" stroke-width="0.5" />
<line x1="41.40" y1="874.86" x2="43.20" y2="874.86" stroke="#333333" stroke-width="0.5" />
<line x1="318.31" y1="1136.30" x2="318.31" y2="1138.10" stroke="#333333" stroke-width="0.5" />
<line x1="41.40" y1="865.65" x2="43.20" y2="865.65" stroke="#333333" stroke-width="0.5" />
<line x1="325.23" y1="1136.30" x2="325.23" y2="1138.10" stroke="#333333" stroke-width="0.5" />
<line x1="41.40" y1="859.11" x2="43.20" y2="859.11" stroke="#333333" stroke-width="0.5" />
<line x1="330.61" y1="1136.30" x2="330.61" y2="1138.10" stroke="#333333" stroke-width="0.5" />
<line x1="41.40" y1="854.04" x2="43.20" y2="854.04" stroke="#333333" stroke-width="0.5" />
<line x1="335.00" y1="1136.30" x2="335.00" y2="1138.10" stroke="#333333" stroke-width="0.5" />
<line x1="41.40" y1="849.90" x2="43.20" y2="849.90" stroke="#333333" stroke-width="0.5" />
<line x1="338.71" y1="1136.30" x2="338.71" y2="1138.10" stroke="#333333" stroke-width="0.5" />
<line x1="41.40" y1="846.40" x2="43.20" y2="846.40" stroke="#333333" stroke-width="0.5" />
<line x1="341.93" y1="1136.30" x2="341.93" y2="1138.10" stroke="#333333" stroke-width="0.5" />
<line x1="41.40" y1="843.37" x2="43.20" y2="843.37" stroke="#333333" stroke-width="0.5" />
<line x1="344.76" y1="1136.30" x2="344.76" y2="1138.10" stroke="#333333" stroke-width="0.5" />
<line x1="41.40" y1="840.69" x2="43.20" y2="840.69" stroke="#333333" stroke-width="0.5" />
<line x1="363.99" y1="1136.30" x2="363.99" y2="1138.10" stroke="#333333" stroke-width="0.5" />
<line x1="41.40" y1="822.56" x2="43.20" y2="822.56" stroke="#333333" stroke-width="0.5" />
<line x1="41.40" y1="813.35" x2="43.20" y2="813.35" stroke="#333333" stroke-width="0.5" />
<text x="207.30" y="1165.00" font-size="9.6" text-anchor="middle" textLength="142.50" lengthAdjust="spacingAndGlyphs">Average CPM per cell (TotalX)</text>
<text x="14.00" y="972.10" font-size="9.6" text-anchor="middle" transform="rotate(-90 14.00 972.10)" textLength="180.60" lengthAdjust="spacingAndGlyphs">Average CPM per cell (TotalX miRNA(+))</text>
<circle cx="60.90" cy="825.90" r="3.40" fill="#c3c3c3" stroke="none" stroke-width="1" />
<text x="70.30" y="829.40" font-size="10" textLength="57.24" lengthAdjust="spacingAndGlyphs">Other genes</text>
<circle cx="60.90" cy="838.95" r="3.40" fill="#e8262a" stroke="none" stroke-width="1" />
<text x="70.30" y="842.45" font-size="10" textLength="158.37" lengthAdjust="spacingAndGlyphs">Known HEK293T-specific miRNAs</text>
<circle cx="60.90" cy="852.00" r="3.40" fill="#3f4fa8" stroke="none" stroke-width="1" />
<text x="70.30" y="855.50" font-size="10" textLength="216.02" lengthAdjust="spacingAndGlyphs">Low-to-moderately expressed HEK293T genes</text>
<rect x="253.30" y="999.40" width="114.10" height="100.90" fill="#fff" stroke="#333333" stroke-width="0.8" />
<rect x="259.10" y="1002.30" width="48.60" height="98.00" fill="#72c5cc" stroke="#222" stroke-width="0.7" />
<rect x="313.20" y="1029.60" width="48.40" height="70.70" fill="#f26566" stroke="#222" stroke-width="0.7" />
<text x="283.50" y="1053.30" font-size="8" text-anchor="middle" fill="#000" font-weight="bold" textLength="24.50" lengthAdjust="spacingAndGlyphs" stroke="#000" stroke-width="0.3">97.3%</text>
<text x="337.40" y="1066.90" font-size="8" text-anchor="middle" fill="#000" font-weight="bold" textLength="24.50" lengthAdjust="spacingAndGlyphs" stroke="#000" stroke-width="0.3">70.1%</text>
<line x1="250.30" y1="1100.30" x2="253.30" y2="1100.30" stroke="#333333" stroke-width="0.7" />
<text x="248.50" y="1103.00" font-size="7.4" text-anchor="end">0</text>
<line x1="250.30" y1="1080.12" x2="253.30" y2="1080.12" stroke="#333333" stroke-width="0.7" />
<text x="248.50" y="1082.82" font-size="7.4" text-anchor="end" textLength="9.05" lengthAdjust="spacingAndGlyphs">20</text>
<line x1="250.30" y1="1059.94" x2="253.30" y2="1059.94" stroke="#333333" stroke-width="0.7" />
<text x="248.50" y="1062.64" font-size="7.4" text-anchor="end" textLength="9.05" lengthAdjust="spacingAndGlyphs">40</text>
<line x1="250.30" y1="1039.76" x2="253.30" y2="1039.76" stroke="#333333" stroke-width="0.7" />
<text x="248.50" y="1042.46" font-size="7.4" text-anchor="end" textLength="9.05" lengthAdjust="spacingAndGlyphs">60</text>
<line x1="250.30" y1="1019.58" x2="253.30" y2="1019.58" stroke="#333333" stroke-width="0.7" />
<text x="248.50" y="1022.28" font-size="7.4" text-anchor="end" textLength="9.05" lengthAdjust="spacingAndGlyphs">80</text>
<line x1="250.30" y1="999.40" x2="253.30" y2="999.40" stroke="#333333" stroke-width="0.7" />
<text x="248.50" y="1002.10" font-size="7.4" text-anchor="end" textLength="13.58" lengthAdjust="spacingAndGlyphs">100</text>
<text x="310.40" y="988.00" font-size="8.3" text-anchor="middle" textLength="69.45" lengthAdjust="spacingAndGlyphs">Reads mapped to</text>
<text x="310.40" y="997.00" font-size="8.3" text-anchor="middle" textLength="31.80" lengthAdjust="spacingAndGlyphs">genome</text>
<text x="221.60" y="1050.00" font-size="8.1" text-anchor="middle" transform="rotate(-90 221.60 1050.00)" textLength="67.00" lengthAdjust="spacingAndGlyphs">Reads mapped to</text>
<text x="231.60" y="1050.00" font-size="8.1" text-anchor="middle" transform="rotate(-90 231.60 1050.00)" textLength="46.33" lengthAdjust="spacingAndGlyphs">genome (%)</text>
<line x1="283.40" y1="1100.30" x2="283.40" y2="1103.30" stroke="#333333" stroke-width="0.7" />
<line x1="337.40" y1="1100.30" x2="337.40" y2="1103.30" stroke="#333333" stroke-width="0.7" />
<text x="286.00" y="1107.50" font-size="6.6" text-anchor="end" transform="rotate(-45 286.00 1107.50)" textLength="19.81" lengthAdjust="spacingAndGlyphs">TotalX</text>
<text x="337.50" y="1106.00" font-size="6.6" text-anchor="end" transform="rotate(-45 337.50 1106.00)" textLength="19.81" lengthAdjust="spacingAndGlyphs">TotalX</text>
<text x="343.50" y="1111.50" font-size="6.6" text-anchor="end" transform="rotate(-45 343.50 1111.50)" textLength="31.48" lengthAdjust="spacingAndGlyphs">miRNA(+)</text>
</g>
<g id="panel_f">
<text x="421.80" y="797.00" font-size="18" fill="#000" font-weight="bold" stroke="#000" stroke-width="0.35">f</text>
<text x="425.70" y="811.30" font-size="10" textLength="189.60" lengthAdjust="spacingAndGlyphs">MIR17 (chr13(+): 91,350,605–91,350,688)</text>
<rect x="466.30" y="816.40" width="108.60" height="78.00" fill="#fff" stroke="none" stroke-width="1" />
<polygon points="466.30,891.30 466.16,883.63 468.03,884.79 477.37,886.19 480.18,885.03 481.11,846.72 481.58,820.56 482.28,819.62 486.72,819.86 487.89,820.32 502.60,820.32 503.30,835.04 504.24,856.76 507.74,857.00 508.44,861.20 509.61,872.41 512.88,875.22 531.10,875.22 554.46,875.22 556.09,880.12 559.13,881.29 561.47,888.06 574.78,888.06 574.90,891.30" fill="#d4e8f3" stroke="none" stroke-width="1" />
<rect x="481.60" y="816.40" width="29.20" height="78.00" fill="#808080" stroke="none" stroke-width="1" fill-opacity="0.16"/>
<rect x="531.30" y="816.40" width="28.50" height="78.00" fill="#808080" stroke="none" stroke-width="1" fill-opacity="0.16"/>
<polyline points="466.16,883.63 468.03,884.79 477.37,886.19 480.18,885.03 481.11,846.72 481.58,820.56 482.28,819.62 486.72,819.86 487.89,820.32 502.60,820.32 503.30,835.04 504.24,856.76 507.74,857.00 508.44,861.20 509.61,872.41 512.88,875.22 531.10,875.22 554.46,875.22 556.09,880.12 559.13,881.29 561.47,888.06 574.78,888.06" fill="none" stroke="#3a87c4" stroke-width="1.3" stroke-linejoin="round"/>
<rect x="466.30" y="816.40" width="108.60" height="78.00" fill="none" stroke="#6a6a6a" stroke-width="0.8" />
<line x1="463.30" y1="819.20" x2="466.30" y2="819.20" stroke="#333333" stroke-width="0.7" />
<text x="459.80" y="822.20" font-size="8.4" text-anchor="end" textLength="23.75" lengthAdjust="spacingAndGlyphs">2,000</text>
<line x1="463.30" y1="837.10" x2="466.30" y2="837.10" stroke="#333333" stroke-width="0.7" />
<text x="459.80" y="840.10" font-size="8.4" text-anchor="end" textLength="23.75" lengthAdjust="spacingAndGlyphs">1,500</text>
<line x1="463.30" y1="855.40" x2="466.30" y2="855.40" stroke="#333333" stroke-width="0.7" />
<text x="459.80" y="858.40" font-size="8.4" text-anchor="end" textLength="23.75" lengthAdjust="spacingAndGlyphs">1,000</text>
<line x1="463.30" y1="873.30" x2="466.30" y2="873.30" stroke="#333333" stroke-width="0.7" />
<text x="459.80" y="876.30" font-size="8.4" text-anchor="end" textLength="15.84" lengthAdjust="spacingAndGlyphs">500</text>
<line x1="463.30" y1="891.30" x2="466.30" y2="891.30" stroke="#333333" stroke-width="0.7" />
<text x="459.80" y="894.30" font-size="8.4" text-anchor="end">0</text>
<text x="430.80" y="855.40" font-size="9.6" text-anchor="middle" transform="rotate(-90 430.80 855.40)" textLength="52.62" lengthAdjust="spacingAndGlyphs">Read depth</text>
<line x1="466.30" y1="908.20" x2="574.90" y2="908.20" stroke="#2e2a8c" stroke-width="1.3" />
<rect x="505.50" y="905.30" width="5.30" height="5.80" fill="#2e2a8c" stroke="none" stroke-width="1" />
<polygon points="481.60,905.30 485.14,905.30 487.05,908.20 485.14,911.10 481.60,911.10 483.51,908.20" fill="#2e2a8c" stroke="none" stroke-width="1" />
<polygon points="486.38,905.30 489.92,905.30 491.83,908.20 489.92,911.10 486.38,911.10 488.29,908.20" fill="#2e2a8c" stroke="none" stroke-width="1" />
<polygon points="491.16,905.30 494.70,905.30 496.61,908.20 494.70,911.10 491.16,911.10 493.07,908.20" fill="#2e2a8c" stroke="none" stroke-width="1" />
<polygon points="495.94,905.30 499.48,905.30 501.39,908.20 499.48,911.10 495.94,911.10 497.85,908.20" fill="#2e2a8c" stroke="none" stroke-width="1" />
<polygon points="500.72,905.30 504.26,905.30 506.17,908.20 504.26,911.10 500.72,911.10 502.63,908.20" fill="#2e2a8c" stroke="none" stroke-width="1" />
<text x="497.20" y="920.80" font-size="9.6" text-anchor="middle" textLength="11.21" lengthAdjust="spacingAndGlyphs">5p</text>
<rect x="554.50" y="905.30" width="5.30" height="5.80" fill="#2e2a8c" stroke="none" stroke-width="1" />
<polygon points="531.30,905.30 534.73,905.30 536.59,908.20 534.73,911.10 531.30,911.10 533.16,908.20" fill="#2e2a8c" stroke="none" stroke-width="1" />
<polygon points="535.94,905.30 539.37,905.30 541.23,908.20 539.37,911.10 535.94,911.10 537.80,908.20" fill="#2e2a8c" stroke="none" stroke-width="1" />
<polygon points="540.58,905.30 544.01,905.30 545.87,908.20 544.01,911.10 540.58,911.10 542.44,908.20" fill="#2e2a8c" stroke="none" stroke-width="1" />
<polygon points="545.22,905.30 548.65,905.30 550.51,908.20 548.65,911.10 545.22,911.10 547.08,908.20" fill="#2e2a8c" stroke="none" stroke-width="1" />
<polygon points="549.86,905.30 553.29,905.30 555.15,908.20 553.29,911.10 549.86,911.10 551.72,908.20" fill="#2e2a8c" stroke="none" stroke-width="1" />
<text x="546.30" y="920.80" font-size="9.6" text-anchor="middle" textLength="11.21" lengthAdjust="spacingAndGlyphs">3p</text>
<text x="425.70" y="937.70" font-size="10" textLength="189.60" lengthAdjust="spacingAndGlyphs">MIR222 (chrX(−): 45,747,015–45,747,124)</text>
<rect x="466.30" y="941.70" width="108.60" height="78.60" fill="#fff" stroke="none" stroke-width="1" />
<polygon points="466.30,1017.10 466.31,1007.37 480.62,1007.10 481.70,1003.31 483.05,979.01 485.75,957.41 486.83,953.36 489.26,952.55 505.74,952.28 506.82,954.17 521.67,955.52 523.83,953.36 526.26,951.19 528.42,949.84 529.50,945.79 533.82,945.52 545.70,946.33 546.51,979.01 547.06,1006.02 550.03,1006.02 574.87,1003.85 574.90,1017.10" fill="#d4e8f3" stroke="none" stroke-width="1" />
<rect x="486.60" y="941.70" width="20.80" height="78.60" fill="#808080" stroke="none" stroke-width="1" fill-opacity="0.16"/>
<rect x="523.80" y="941.70" width="22.40" height="78.60" fill="#808080" stroke="none" stroke-width="1" fill-opacity="0.16"/>
<polyline points="466.31,1007.37 480.62,1007.10 481.70,1003.31 483.05,979.01 485.75,957.41 486.83,953.36 489.26,952.55 505.74,952.28 506.82,954.17 521.67,955.52 523.83,953.36 526.26,951.19 528.42,949.84 529.50,945.79 533.82,945.52 545.70,946.33 546.51,979.01 547.06,1006.02 550.03,1006.02 574.87,1003.85" fill="none" stroke="#3a87c4" stroke-width="1.3" stroke-linejoin="round"/>
<rect x="466.30" y="941.70" width="108.60" height="78.60" fill="none" stroke="#6a6a6a" stroke-width="0.8" />
<line x1="463.30" y1="959.80" x2="466.30" y2="959.80" stroke="#333333" stroke-width="0.7" />
<text x="459.80" y="962.80" font-size="8.4" text-anchor="end" textLength="23.75" lengthAdjust="spacingAndGlyphs">4,000</text>
<line x1="463.30" y1="988.50" x2="466.30" y2="988.50" stroke="#333333" stroke-width="0.7" />
<text x="459.80" y="991.50" font-size="8.4" text-anchor="end" textLength="23.75" lengthAdjust="spacingAndGlyphs">2,000</text>
<line x1="463.30" y1="1017.10" x2="466.30" y2="1017.10" stroke="#333333" stroke-width="0.7" />
<text x="459.80" y="1020.10" font-size="8.4" text-anchor="end">0</text>
<text x="430.80" y="981.00" font-size="9.6" text-anchor="middle" transform="rotate(-90 430.80 981.00)" textLength="52.62" lengthAdjust="spacingAndGlyphs">Read depth</text>
<line x1="466.30" y1="1034.10" x2="574.90" y2="1034.10" stroke="#2e2a8c" stroke-width="1.3" />
<rect x="502.40" y="1031.20" width="5.00" height="5.80" fill="#2e2a8c" stroke="none" stroke-width="1" />
<polygon points="490.55,1031.20 488.26,1031.20 486.68,1034.10 488.26,1037.00 490.55,1037.00 488.97,1034.10" fill="#2e2a8c" stroke="none" stroke-width="1" />
<polygon points="494.50,1031.20 492.21,1031.20 490.63,1034.10 492.21,1037.00 494.50,1037.00 492.92,1034.10" fill="#2e2a8c" stroke="none" stroke-width="1" />
<polygon points="498.45,1031.20 496.16,1031.20 494.58,1034.10 496.16,1037.00 498.45,1037.00 496.87,1034.10" fill="#2e2a8c" stroke="none" stroke-width="1" />
<polygon points="502.40,1031.20 500.11,1031.20 498.53,1034.10 500.11,1037.00 502.40,1037.00 500.82,1034.10" fill="#2e2a8c" stroke="none" stroke-width="1" />
<text x="497.90" y="1046.70" font-size="9.6" text-anchor="middle" textLength="11.21" lengthAdjust="spacingAndGlyphs">3p</text>
<rect x="543.40" y="1031.20" width="2.80" height="5.80" fill="#2e2a8c" stroke="none" stroke-width="1" />
<polygon points="527.72,1031.20 525.45,1031.20 523.88,1034.10 525.45,1037.00 527.72,1037.00 526.15,1034.10" fill="#2e2a8c" stroke="none" stroke-width="1" />
<polygon points="531.64,1031.20 529.37,1031.20 527.80,1034.10 529.37,1037.00 531.64,1037.00 530.07,1034.10" fill="#2e2a8c" stroke="none" stroke-width="1" />
<polygon points="535.56,1031.20 533.29,1031.20 531.72,1034.10 533.29,1037.00 535.56,1037.00 533.99,1034.10" fill="#2e2a8c" stroke="none" stroke-width="1" />
<polygon points="539.48,1031.20 537.21,1031.20 535.64,1034.10 537.21,1037.00 539.48,1037.00 537.91,1034.10" fill="#2e2a8c" stroke="none" stroke-width="1" />
<polygon points="543.40,1031.20 541.13,1031.20 539.56,1034.10 541.13,1037.00 543.40,1037.00 541.83,1034.10" fill="#2e2a8c" stroke="none" stroke-width="1" />
<text x="535.20" y="1046.70" font-size="9.6" text-anchor="middle" textLength="11.21" lengthAdjust="spacingAndGlyphs">5p</text>
<text x="425.70" y="1065.50" font-size="10" textLength="189.60" lengthAdjust="spacingAndGlyphs">MIR221 (chrX(−): 45,746,157–45,746,266)</text>
<rect x="466.30" y="1071.10" width="108.60" height="77.70" fill="#fff" stroke="none" stroke-width="1" />
<polygon points="466.30,1145.30 466.31,1100.50 486.56,1100.77 487.37,1090.51 488.45,1078.36 490.61,1074.30 493.31,1073.49 509.52,1073.49 510.33,1082.41 511.41,1094.56 513.57,1096.18 523.83,1096.45 524.64,1095.10 549.22,1095.10 550.84,1099.96 553.27,1102.12 555.43,1101.31 574.87,1099.96 574.90,1145.30" fill="#d4e8f3" stroke="none" stroke-width="1" />
<rect x="488.70" y="1071.10" width="22.20" height="77.70" fill="#808080" stroke="none" stroke-width="1" fill-opacity="0.16"/>
<rect x="529.80" y="1071.10" width="21.00" height="77.70" fill="#808080" stroke="none" stroke-width="1" fill-opacity="0.16"/>
<polyline points="466.31,1100.50 486.56,1100.77 487.37,1090.51 488.45,1078.36 490.61,1074.30 493.31,1073.49 509.52,1073.49 510.33,1082.41 511.41,1094.56 513.57,1096.18 523.83,1096.45 524.64,1095.10 549.22,1095.10 550.84,1099.96 553.27,1102.12 555.43,1101.31 574.87,1099.96" fill="none" stroke="#3a87c4" stroke-width="1.3" stroke-linejoin="round"/>
<rect x="466.30" y="1071.10" width="108.60" height="77.70" fill="none" stroke="#6a6a6a" stroke-width="0.8" />
<line x1="463.30" y1="1082.40" x2="466.30" y2="1082.40" stroke="#333333" stroke-width="0.7" />
<text x="459.80" y="1085.40" font-size="8.4" text-anchor="end" textLength="23.75" lengthAdjust="spacingAndGlyphs">1,000</text>
<line x1="463.30" y1="1114.00" x2="466.30" y2="1114.00" stroke="#333333" stroke-width="0.7" />
<text x="459.80" y="1117.00" font-size="8.4" text-anchor="end" textLength="15.84" lengthAdjust="spacingAndGlyphs">500</text>
<line x1="463.30" y1="1145.30" x2="466.30" y2="1145.30" stroke="#333333" stroke-width="0.7" />
<text x="459.80" y="1148.30" font-size="8.4" text-anchor="end">0</text>
<text x="430.80" y="1109.95" font-size="9.6" text-anchor="middle" transform="rotate(-90 430.80 1109.95)" textLength="52.62" lengthAdjust="spacingAndGlyphs">Read depth</text>
<line x1="466.30" y1="1161.80" x2="574.90" y2="1161.80" stroke="#2e2a8c" stroke-width="1.3" />
<rect x="505.90" y="1158.90" width="5.00" height="5.80" fill="#2e2a8c" stroke="none" stroke-width="1" />
<polygon points="492.14,1158.90 490.14,1158.90 488.77,1161.80 490.14,1164.70 492.14,1164.70 490.76,1161.80" fill="#2e2a8c" stroke="none" stroke-width="1" />
<polygon points="495.58,1158.90 493.58,1158.90 492.21,1161.80 493.58,1164.70 495.58,1164.70 494.20,1161.80" fill="#2e2a8c" stroke="none" stroke-width="1" />
<polygon points="499.02,1158.90 497.02,1158.90 495.65,1161.80 497.02,1164.70 499.02,1164.70 497.64,1161.80" fill="#2e2a8c" stroke="none" stroke-width="1" />
<polygon points="502.46,1158.90 500.46,1158.90 499.09,1161.80 500.46,1164.70 502.46,1164.70 501.08,1161.80" fill="#2e2a8c" stroke="none" stroke-width="1" />
<polygon points="505.90,1158.90 503.90,1158.90 502.53,1161.80 503.90,1164.70 505.90,1164.70 504.52,1161.80" fill="#2e2a8c" stroke="none" stroke-width="1" />
<text x="500.90" y="1174.40" font-size="9.6" text-anchor="middle" textLength="11.21" lengthAdjust="spacingAndGlyphs">3p</text>
<rect x="548.00" y="1158.90" width="2.80" height="5.80" fill="#2e2a8c" stroke="none" stroke-width="1" />
<polygon points="533.44,1158.90 531.33,1158.90 529.87,1161.80 531.33,1164.70 533.44,1164.70 531.98,1161.80" fill="#2e2a8c" stroke="none" stroke-width="1" />
<polygon points="537.08,1158.90 534.97,1158.90 533.51,1161.80 534.97,1164.70 537.08,1164.70 535.62,1161.80" fill="#2e2a8c" stroke="none" stroke-width="1" />
<polygon points="540.72,1158.90 538.61,1158.90 537.15,1161.80 538.61,1164.70 540.72,1164.70 539.26,1161.80" fill="#2e2a8c" stroke="none" stroke-width="1" />
<polygon points="544.36,1158.90 542.25,1158.90 540.79,1161.80 542.25,1164.70 544.36,1164.70 542.90,1161.80" fill="#2e2a8c" stroke="none" stroke-width="1" />
<polygon points="548.00,1158.90 545.89,1158.90 544.43,1161.80 545.89,1164.70 548.00,1164.70 546.54,1161.80" fill="#2e2a8c" stroke="none" stroke-width="1" />
<text x="541.40" y="1174.40" font-size="9.6" text-anchor="middle" textLength="11.21" lengthAdjust="spacingAndGlyphs">5p</text>
<line x1="590.40" y1="826.50" x2="607.40" y2="826.50" stroke="#3a87c4" stroke-width="1.5" />
<text x="612.90" y="829.90" font-size="10" textLength="45.10" lengthAdjust="spacingAndGlyphs">Coverage</text>
<rect x="590.40" y="834.60" width="17.00" height="6.20" fill="#e6e6e6" stroke="none" stroke-width="1" />
<text x="612.90" y="841.00" font-size="10" textLength="68.19" lengthAdjust="spacingAndGlyphs">Mature miRNA</text>
</g>
</svg>
</body></html>
